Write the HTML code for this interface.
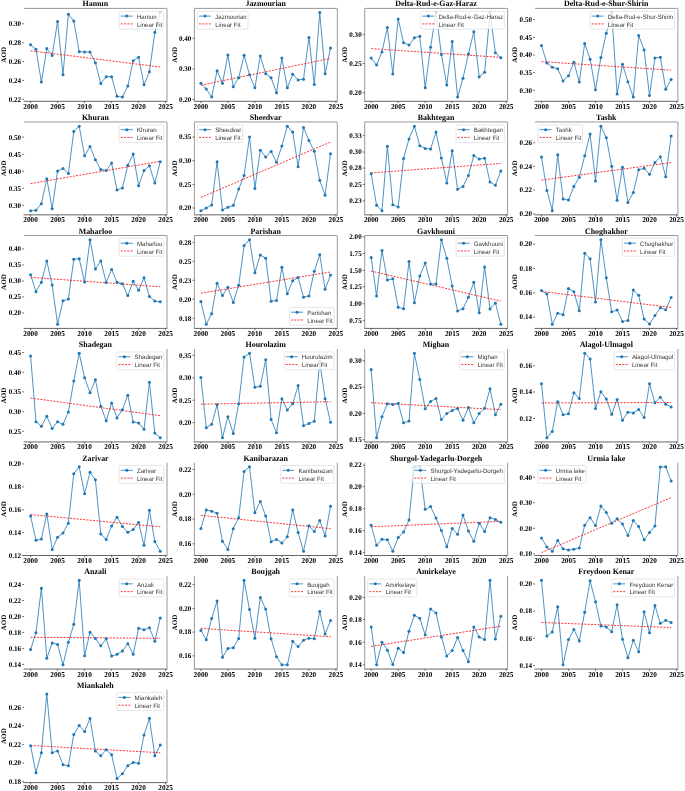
<!DOCTYPE html>
<html><head><meta charset="utf-8"><style>
html,body{margin:0;padding:0;background:#fff;}
svg{display:block;will-change:transform;}
text{text-rendering:geometricPrecision;}
.sp{stroke:#999;stroke-width:1;}
.sb{stroke:#666;stroke-width:1;}
.tk{stroke:#333;stroke-width:0.7;}
.tl{font-family:'Liberation Serif',serif;font-weight:bold;font-size:7.3px;fill:#000;}
.ty{font-family:'Liberation Serif',serif;font-weight:bold;font-size:7.1px;fill:#000;}
.ya{font-family:'Liberation Serif',serif;font-weight:bold;font-size:6.95px;fill:#000;}
.ti{font-family:'Liberation Serif',serif;font-weight:bold;font-size:7.95px;fill:#000;}
.lt{font-family:'Liberation Sans',sans-serif;font-size:6.1px;fill:#333;}
.ln{fill:none;stroke:#1f77b4;stroke-width:0.8;stroke-linejoin:round;}
.fit{stroke:#ff0000;stroke-width:0.8;stroke-dasharray:2.0 1.3;}
.mk{fill:#1f77b4;}
.lg{fill:#fff;fill-opacity:0.8;stroke:#d5d5d5;stroke-width:0.6;}
</style></head>
<body><svg width="685" height="791" viewBox="0 0 685 791">
<rect width="685" height="791" fill="#fff"/>
<line x1="24.1" y1="8.4" x2="166.7" y2="8.4" class="sp"/>
<line x1="23.6" y1="101.3" x2="167.2" y2="101.3" class="sb"/>
<line x1="167" y1="8.4" x2="167" y2="101.8" class="sp"/>
<line x1="30.58" y1="101.3" x2="30.58" y2="103.1" class="tk"/>
<text transform="translate(30.58,108.8) scale(1,1.03)" class="tl" text-anchor="middle">2000</text>
<line x1="57.59" y1="101.3" x2="57.59" y2="103.1" class="tk"/>
<text transform="translate(57.59,108.8) scale(1,1.03)" class="tl" text-anchor="middle">2005</text>
<line x1="84.6" y1="101.3" x2="84.6" y2="103.1" class="tk"/>
<text transform="translate(84.6,108.8) scale(1,1.03)" class="tl" text-anchor="middle">2010</text>
<line x1="111.6" y1="101.3" x2="111.6" y2="103.1" class="tk"/>
<text transform="translate(111.6,108.8) scale(1,1.03)" class="tl" text-anchor="middle">2015</text>
<line x1="138.61" y1="101.3" x2="138.61" y2="103.1" class="tk"/>
<text transform="translate(138.61,108.8) scale(1,1.03)" class="tl" text-anchor="middle">2020</text>
<line x1="165.62" y1="101.3" x2="165.62" y2="103.1" class="tk"/>
<text transform="translate(165.62,108.8) scale(1,1.03)" class="tl" text-anchor="middle">2025</text>
<line x1="22.2" y1="23.81" x2="24.1" y2="23.81" class="tk"/>
<text transform="translate(21.1,26.16) scale(1,1.03)" class="ty" text-anchor="end">0.30</text>
<line x1="22.2" y1="42.68" x2="24.1" y2="42.68" class="tk"/>
<text transform="translate(21.1,45.03) scale(1,1.03)" class="ty" text-anchor="end">0.28</text>
<line x1="22.2" y1="61.54" x2="24.1" y2="61.54" class="tk"/>
<text transform="translate(21.1,63.89) scale(1,1.03)" class="ty" text-anchor="end">0.26</text>
<line x1="22.2" y1="80.41" x2="24.1" y2="80.41" class="tk"/>
<text transform="translate(21.1,82.76) scale(1,1.03)" class="ty" text-anchor="end">0.24</text>
<line x1="22.2" y1="99.27" x2="24.1" y2="99.27" class="tk"/>
<text transform="translate(21.1,101.62) scale(1,1.03)" class="ty" text-anchor="end">0.22</text>
<text transform="translate(95.4,5.9) scale(1,1.03)" class="ti" text-anchor="middle">Hamun</text>
<text transform="translate(6.2,54.85) scale(1,1.03) rotate(-90)" class="ya" text-anchor="middle">AOD</text>
<polyline points="30.58,44.87 35.98,49.26 41.38,81.94 46.79,48.6 52.19,55.4 57.59,21.4 62.99,74.7 68.39,14.16 73.79,20.96 79.2,51.67 84.6,51.89 90,52.11 95.4,62.64 100.8,83.48 106.2,76.68 111.6,76.68 117.01,96.2 122.41,97.08 127.81,86.11 133.21,60.66 138.61,57.37 144.01,84.79 149.42,71.85 154.82,32.15 160.22,12.62" class="ln"/>
<line x1="30.58" y1="50.79" x2="160.22" y2="67.02" class="fit"/>
<circle cx="30.58" cy="44.87" r="1.5" class="mk"/>
<circle cx="35.98" cy="49.26" r="1.5" class="mk"/>
<circle cx="41.38" cy="81.94" r="1.5" class="mk"/>
<circle cx="46.79" cy="48.6" r="1.5" class="mk"/>
<circle cx="52.19" cy="55.4" r="1.5" class="mk"/>
<circle cx="57.59" cy="21.4" r="1.5" class="mk"/>
<circle cx="62.99" cy="74.7" r="1.5" class="mk"/>
<circle cx="68.39" cy="14.16" r="1.5" class="mk"/>
<circle cx="73.79" cy="20.96" r="1.5" class="mk"/>
<circle cx="79.2" cy="51.67" r="1.5" class="mk"/>
<circle cx="84.6" cy="51.89" r="1.5" class="mk"/>
<circle cx="90" cy="52.11" r="1.5" class="mk"/>
<circle cx="95.4" cy="62.64" r="1.5" class="mk"/>
<circle cx="100.8" cy="83.48" r="1.5" class="mk"/>
<circle cx="106.2" cy="76.68" r="1.5" class="mk"/>
<circle cx="111.6" cy="76.68" r="1.5" class="mk"/>
<circle cx="117.01" cy="96.2" r="1.5" class="mk"/>
<circle cx="122.41" cy="97.08" r="1.5" class="mk"/>
<circle cx="127.81" cy="86.11" r="1.5" class="mk"/>
<circle cx="133.21" cy="60.66" r="1.5" class="mk"/>
<circle cx="138.61" cy="57.37" r="1.5" class="mk"/>
<circle cx="144.01" cy="84.79" r="1.5" class="mk"/>
<circle cx="149.42" cy="71.85" r="1.5" class="mk"/>
<circle cx="154.82" cy="32.15" r="1.5" class="mk"/>
<circle cx="160.22" cy="12.62" r="1.5" class="mk"/>
<rect x="119.17" y="11.3" width="44.53" height="17.8" rx="1.2" class="lg"/>
<line x1="120.77" y1="16.1" x2="132.77" y2="16.1" class="ln"/>
<circle cx="126.77" cy="16.1" r="1.5" class="mk"/>
<line x1="120.77" y1="23.9" x2="132.77" y2="23.9" class="fit"/>
<text transform="translate(136.97,18.8) scale(1,1.03)" class="lt">Hamun</text>
<text transform="translate(136.97,26.6) scale(1,1.03)" class="lt">Linear Fit</text>
<line x1="194.4" y1="8.4" x2="337" y2="8.4" class="sp"/>
<line x1="193.9" y1="101.3" x2="337.5" y2="101.3" class="sb"/>
<line x1="337.3" y1="8.4" x2="337.3" y2="101.8" class="sp"/>
<line x1="194.4" y1="8.4" x2="194.4" y2="101.3" class="sp"/>
<line x1="200.88" y1="101.3" x2="200.88" y2="103.1" class="tk"/>
<text transform="translate(200.88,108.8) scale(1,1.03)" class="tl" text-anchor="middle">2000</text>
<line x1="227.89" y1="101.3" x2="227.89" y2="103.1" class="tk"/>
<text transform="translate(227.89,108.8) scale(1,1.03)" class="tl" text-anchor="middle">2005</text>
<line x1="254.9" y1="101.3" x2="254.9" y2="103.1" class="tk"/>
<text transform="translate(254.9,108.8) scale(1,1.03)" class="tl" text-anchor="middle">2010</text>
<line x1="281.9" y1="101.3" x2="281.9" y2="103.1" class="tk"/>
<text transform="translate(281.9,108.8) scale(1,1.03)" class="tl" text-anchor="middle">2015</text>
<line x1="308.91" y1="101.3" x2="308.91" y2="103.1" class="tk"/>
<text transform="translate(308.91,108.8) scale(1,1.03)" class="tl" text-anchor="middle">2020</text>
<line x1="335.92" y1="101.3" x2="335.92" y2="103.1" class="tk"/>
<text transform="translate(335.92,108.8) scale(1,1.03)" class="tl" text-anchor="middle">2025</text>
<line x1="192.5" y1="38.35" x2="194.4" y2="38.35" class="tk"/>
<text transform="translate(191.4,40.7) scale(1,1.03)" class="ty" text-anchor="end">0.40</text>
<line x1="192.5" y1="68.93" x2="194.4" y2="68.93" class="tk"/>
<text transform="translate(191.4,71.28) scale(1,1.03)" class="ty" text-anchor="end">0.30</text>
<line x1="192.5" y1="99.5" x2="194.4" y2="99.5" class="tk"/>
<text transform="translate(191.4,101.85) scale(1,1.03)" class="ty" text-anchor="end">0.20</text>
<text transform="translate(265.7,5.9) scale(1,1.03)" class="ti" text-anchor="middle">Jazmourian</text>
<text transform="translate(176.5,54.85) scale(1,1.03) rotate(-90)" class="ya" text-anchor="middle">AOD</text>
<polyline points="200.88,83.22 206.28,88.94 211.68,97.08 217.09,70.69 222.49,83.22 227.89,55.07 233.29,86.74 238.69,77.72 244.09,55.29 249.5,74.86 254.9,87.84 260.3,55.95 265.7,73.76 271.1,77.72 276.5,92.68 281.9,57.93 287.31,87.84 292.71,74.2 298.11,79.92 303.51,79.26 308.91,37.48 314.31,84.54 319.72,12.62 325.12,73.76 330.52,48.03" class="ln"/>
<line x1="200.88" y1="85.2" x2="330.52" y2="58.37" class="fit"/>
<circle cx="200.88" cy="83.22" r="1.5" class="mk"/>
<circle cx="206.28" cy="88.94" r="1.5" class="mk"/>
<circle cx="211.68" cy="97.08" r="1.5" class="mk"/>
<circle cx="217.09" cy="70.69" r="1.5" class="mk"/>
<circle cx="222.49" cy="83.22" r="1.5" class="mk"/>
<circle cx="227.89" cy="55.07" r="1.5" class="mk"/>
<circle cx="233.29" cy="86.74" r="1.5" class="mk"/>
<circle cx="238.69" cy="77.72" r="1.5" class="mk"/>
<circle cx="244.09" cy="55.29" r="1.5" class="mk"/>
<circle cx="249.5" cy="74.86" r="1.5" class="mk"/>
<circle cx="254.9" cy="87.84" r="1.5" class="mk"/>
<circle cx="260.3" cy="55.95" r="1.5" class="mk"/>
<circle cx="265.7" cy="73.76" r="1.5" class="mk"/>
<circle cx="271.1" cy="77.72" r="1.5" class="mk"/>
<circle cx="276.5" cy="92.68" r="1.5" class="mk"/>
<circle cx="281.9" cy="57.93" r="1.5" class="mk"/>
<circle cx="287.31" cy="87.84" r="1.5" class="mk"/>
<circle cx="292.71" cy="74.2" r="1.5" class="mk"/>
<circle cx="298.11" cy="79.92" r="1.5" class="mk"/>
<circle cx="303.51" cy="79.26" r="1.5" class="mk"/>
<circle cx="308.91" cy="37.48" r="1.5" class="mk"/>
<circle cx="314.31" cy="84.54" r="1.5" class="mk"/>
<circle cx="319.72" cy="12.62" r="1.5" class="mk"/>
<circle cx="325.12" cy="73.76" r="1.5" class="mk"/>
<circle cx="330.52" cy="48.03" r="1.5" class="mk"/>
<rect x="197.4" y="11.3" width="50.63" height="17.8" rx="1.2" class="lg"/>
<line x1="199" y1="16.1" x2="211" y2="16.1" class="ln"/>
<circle cx="205" cy="16.1" r="1.5" class="mk"/>
<line x1="199" y1="23.9" x2="211" y2="23.9" class="fit"/>
<text transform="translate(215.2,18.8) scale(1,1.03)" class="lt">Jazmourian</text>
<text transform="translate(215.2,26.6) scale(1,1.03)" class="lt">Linear Fit</text>
<line x1="364.7" y1="8.4" x2="507.3" y2="8.4" class="sp"/>
<line x1="364.2" y1="101.3" x2="507.8" y2="101.3" class="sb"/>
<line x1="507.6" y1="8.4" x2="507.6" y2="101.8" class="sp"/>
<line x1="364.7" y1="8.4" x2="364.7" y2="101.3" class="sp"/>
<line x1="371.18" y1="101.3" x2="371.18" y2="103.1" class="tk"/>
<text transform="translate(371.18,108.8) scale(1,1.03)" class="tl" text-anchor="middle">2000</text>
<line x1="398.19" y1="101.3" x2="398.19" y2="103.1" class="tk"/>
<text transform="translate(398.19,108.8) scale(1,1.03)" class="tl" text-anchor="middle">2005</text>
<line x1="425.2" y1="101.3" x2="425.2" y2="103.1" class="tk"/>
<text transform="translate(425.2,108.8) scale(1,1.03)" class="tl" text-anchor="middle">2010</text>
<line x1="452.2" y1="101.3" x2="452.2" y2="103.1" class="tk"/>
<text transform="translate(452.2,108.8) scale(1,1.03)" class="tl" text-anchor="middle">2015</text>
<line x1="479.21" y1="101.3" x2="479.21" y2="103.1" class="tk"/>
<text transform="translate(479.21,108.8) scale(1,1.03)" class="tl" text-anchor="middle">2020</text>
<line x1="506.22" y1="101.3" x2="506.22" y2="103.1" class="tk"/>
<text transform="translate(506.22,108.8) scale(1,1.03)" class="tl" text-anchor="middle">2025</text>
<line x1="362.8" y1="34.78" x2="364.7" y2="34.78" class="tk"/>
<text transform="translate(361.7,37.13) scale(1,1.03)" class="ty" text-anchor="end">0.30</text>
<line x1="362.8" y1="63.51" x2="364.7" y2="63.51" class="tk"/>
<text transform="translate(361.7,65.86) scale(1,1.03)" class="ty" text-anchor="end">0.25</text>
<line x1="362.8" y1="92.69" x2="364.7" y2="92.69" class="tk"/>
<text transform="translate(361.7,95.04) scale(1,1.03)" class="ty" text-anchor="end">0.20</text>
<text transform="translate(436,5.9) scale(1,1.03)" class="ti" text-anchor="middle">Delta-Rud-e-Gaz-Haraz</text>
<text transform="translate(346.8,54.85) scale(1,1.03) rotate(-90)" class="ya" text-anchor="middle">AOD</text>
<polyline points="371.18,58.03 376.58,65.05 381.98,51.89 387.39,27.54 392.79,74.04 398.19,18.98 403.59,42.68 408.99,45.09 414.39,37.85 419.8,36.31 425.2,87.64 430.6,47.28 436,12.62 441.4,54.52 446.8,85.01 452.2,41.58 457.61,97.08 463.01,78.21 468.41,54.08 473.81,31.71 479.21,76.9 484.61,72.29 490.02,12.62 495.42,52.77 500.82,57.81" class="ln"/>
<line x1="371.18" y1="48.6" x2="500.82" y2="57.37" class="fit"/>
<circle cx="371.18" cy="58.03" r="1.5" class="mk"/>
<circle cx="376.58" cy="65.05" r="1.5" class="mk"/>
<circle cx="381.98" cy="51.89" r="1.5" class="mk"/>
<circle cx="387.39" cy="27.54" r="1.5" class="mk"/>
<circle cx="392.79" cy="74.04" r="1.5" class="mk"/>
<circle cx="398.19" cy="18.98" r="1.5" class="mk"/>
<circle cx="403.59" cy="42.68" r="1.5" class="mk"/>
<circle cx="408.99" cy="45.09" r="1.5" class="mk"/>
<circle cx="414.39" cy="37.85" r="1.5" class="mk"/>
<circle cx="419.8" cy="36.31" r="1.5" class="mk"/>
<circle cx="425.2" cy="87.64" r="1.5" class="mk"/>
<circle cx="430.6" cy="47.28" r="1.5" class="mk"/>
<circle cx="436" cy="12.62" r="1.5" class="mk"/>
<circle cx="441.4" cy="54.52" r="1.5" class="mk"/>
<circle cx="446.8" cy="85.01" r="1.5" class="mk"/>
<circle cx="452.2" cy="41.58" r="1.5" class="mk"/>
<circle cx="457.61" cy="97.08" r="1.5" class="mk"/>
<circle cx="463.01" cy="78.21" r="1.5" class="mk"/>
<circle cx="468.41" cy="54.08" r="1.5" class="mk"/>
<circle cx="473.81" cy="31.71" r="1.5" class="mk"/>
<circle cx="479.21" cy="76.9" r="1.5" class="mk"/>
<circle cx="484.61" cy="72.29" r="1.5" class="mk"/>
<circle cx="490.02" cy="12.62" r="1.5" class="mk"/>
<circle cx="495.42" cy="52.77" r="1.5" class="mk"/>
<circle cx="500.82" cy="57.81" r="1.5" class="mk"/>
<rect x="420.8" y="11.3" width="83.5" height="17.8" rx="1.2" class="lg"/>
<line x1="422.4" y1="16.1" x2="434.4" y2="16.1" class="ln"/>
<circle cx="428.4" cy="16.1" r="1.5" class="mk"/>
<line x1="422.4" y1="23.9" x2="434.4" y2="23.9" class="fit"/>
<text transform="translate(438.6,18.8) scale(1,1.03)" class="lt">Delta-Rud-e-Gaz-Haraz</text>
<text transform="translate(438.6,26.6) scale(1,1.03)" class="lt">Linear Fit</text>
<line x1="535" y1="8.4" x2="677.6" y2="8.4" class="sp"/>
<line x1="534.5" y1="101.3" x2="678.1" y2="101.3" class="sb"/>
<line x1="677.9" y1="8.4" x2="677.9" y2="101.8" class="sp"/>
<line x1="541.48" y1="101.3" x2="541.48" y2="103.1" class="tk"/>
<text transform="translate(541.48,108.8) scale(1,1.03)" class="tl" text-anchor="middle">2000</text>
<line x1="568.49" y1="101.3" x2="568.49" y2="103.1" class="tk"/>
<text transform="translate(568.49,108.8) scale(1,1.03)" class="tl" text-anchor="middle">2005</text>
<line x1="595.5" y1="101.3" x2="595.5" y2="103.1" class="tk"/>
<text transform="translate(595.5,108.8) scale(1,1.03)" class="tl" text-anchor="middle">2010</text>
<line x1="622.5" y1="101.3" x2="622.5" y2="103.1" class="tk"/>
<text transform="translate(622.5,108.8) scale(1,1.03)" class="tl" text-anchor="middle">2015</text>
<line x1="649.51" y1="101.3" x2="649.51" y2="103.1" class="tk"/>
<text transform="translate(649.51,108.8) scale(1,1.03)" class="tl" text-anchor="middle">2020</text>
<line x1="676.52" y1="101.3" x2="676.52" y2="103.1" class="tk"/>
<text transform="translate(676.52,108.8) scale(1,1.03)" class="tl" text-anchor="middle">2025</text>
<line x1="533.1" y1="19.62" x2="535" y2="19.62" class="tk"/>
<text transform="translate(532,21.97) scale(1,1.03)" class="ty" text-anchor="end">0.50</text>
<line x1="533.1" y1="37.35" x2="535" y2="37.35" class="tk"/>
<text transform="translate(532,39.7) scale(1,1.03)" class="ty" text-anchor="end">0.45</text>
<line x1="533.1" y1="55.07" x2="535" y2="55.07" class="tk"/>
<text transform="translate(532,57.42) scale(1,1.03)" class="ty" text-anchor="end">0.40</text>
<line x1="533.1" y1="72.57" x2="535" y2="72.57" class="tk"/>
<text transform="translate(532,74.92) scale(1,1.03)" class="ty" text-anchor="end">0.35</text>
<line x1="533.1" y1="90.29" x2="535" y2="90.29" class="tk"/>
<text transform="translate(532,92.64) scale(1,1.03)" class="ty" text-anchor="end">0.30</text>
<text transform="translate(606.3,5.9) scale(1,1.03)" class="ti" text-anchor="middle">Delta-Rud-e-Shur-Shirin</text>
<text transform="translate(517.1,54.85) scale(1,1.03) rotate(-90)" class="ya" text-anchor="middle">AOD</text>
<polyline points="541.48,45.44 546.88,62.95 552.28,67.32 557.69,68.63 563.09,80.89 568.49,75.85 573.89,62.29 579.29,81.98 584.69,43.47 590.1,59.23 595.5,89.64 600.9,57.48 606.3,33.19 611.7,12.62 617.1,94.01 622.5,64.26 627.91,81.76 633.31,97.08 638.71,35.38 644.11,50.04 649.51,95.55 654.91,57.91 660.32,57.26 665.72,89.2 671.12,79.57" class="ln"/>
<line x1="541.48" y1="61.63" x2="671.12" y2="70.17" class="fit"/>
<circle cx="541.48" cy="45.44" r="1.5" class="mk"/>
<circle cx="546.88" cy="62.95" r="1.5" class="mk"/>
<circle cx="552.28" cy="67.32" r="1.5" class="mk"/>
<circle cx="557.69" cy="68.63" r="1.5" class="mk"/>
<circle cx="563.09" cy="80.89" r="1.5" class="mk"/>
<circle cx="568.49" cy="75.85" r="1.5" class="mk"/>
<circle cx="573.89" cy="62.29" r="1.5" class="mk"/>
<circle cx="579.29" cy="81.98" r="1.5" class="mk"/>
<circle cx="584.69" cy="43.47" r="1.5" class="mk"/>
<circle cx="590.1" cy="59.23" r="1.5" class="mk"/>
<circle cx="595.5" cy="89.64" r="1.5" class="mk"/>
<circle cx="600.9" cy="57.48" r="1.5" class="mk"/>
<circle cx="606.3" cy="33.19" r="1.5" class="mk"/>
<circle cx="611.7" cy="12.62" r="1.5" class="mk"/>
<circle cx="617.1" cy="94.01" r="1.5" class="mk"/>
<circle cx="622.5" cy="64.26" r="1.5" class="mk"/>
<circle cx="627.91" cy="81.76" r="1.5" class="mk"/>
<circle cx="633.31" cy="97.08" r="1.5" class="mk"/>
<circle cx="638.71" cy="35.38" r="1.5" class="mk"/>
<circle cx="644.11" cy="50.04" r="1.5" class="mk"/>
<circle cx="649.51" cy="95.55" r="1.5" class="mk"/>
<circle cx="654.91" cy="57.91" r="1.5" class="mk"/>
<circle cx="660.32" cy="57.26" r="1.5" class="mk"/>
<circle cx="665.72" cy="89.2" r="1.5" class="mk"/>
<circle cx="671.12" cy="79.57" r="1.5" class="mk"/>
<rect x="590.07" y="11.3" width="84.53" height="17.8" rx="1.2" class="lg"/>
<line x1="591.67" y1="16.1" x2="603.67" y2="16.1" class="ln"/>
<circle cx="597.67" cy="16.1" r="1.5" class="mk"/>
<line x1="591.67" y1="23.9" x2="603.67" y2="23.9" class="fit"/>
<text transform="translate(607.87,18.8) scale(1,1.03)" class="lt">Delta-Rud-e-Shur-Shirin</text>
<text transform="translate(607.87,26.6) scale(1,1.03)" class="lt">Linear Fit</text>
<line x1="24.1" y1="121.95" x2="166.7" y2="121.95" class="sp"/>
<line x1="23.6" y1="214.85" x2="167.2" y2="214.85" class="sb"/>
<line x1="167" y1="121.95" x2="167" y2="215.35" class="sp"/>
<line x1="30.58" y1="214.85" x2="30.58" y2="216.65" class="tk"/>
<text transform="translate(30.58,222.35) scale(1,1.03)" class="tl" text-anchor="middle">2000</text>
<line x1="57.59" y1="214.85" x2="57.59" y2="216.65" class="tk"/>
<text transform="translate(57.59,222.35) scale(1,1.03)" class="tl" text-anchor="middle">2005</text>
<line x1="84.6" y1="214.85" x2="84.6" y2="216.65" class="tk"/>
<text transform="translate(84.6,222.35) scale(1,1.03)" class="tl" text-anchor="middle">2010</text>
<line x1="111.6" y1="214.85" x2="111.6" y2="216.65" class="tk"/>
<text transform="translate(111.6,222.35) scale(1,1.03)" class="tl" text-anchor="middle">2015</text>
<line x1="138.61" y1="214.85" x2="138.61" y2="216.65" class="tk"/>
<text transform="translate(138.61,222.35) scale(1,1.03)" class="tl" text-anchor="middle">2020</text>
<line x1="165.62" y1="214.85" x2="165.62" y2="216.65" class="tk"/>
<text transform="translate(165.62,222.35) scale(1,1.03)" class="tl" text-anchor="middle">2025</text>
<line x1="22.2" y1="137.17" x2="24.1" y2="137.17" class="tk"/>
<text transform="translate(21.1,139.52) scale(1,1.03)" class="ty" text-anchor="end">0.50</text>
<line x1="22.2" y1="154.32" x2="24.1" y2="154.32" class="tk"/>
<text transform="translate(21.1,156.67) scale(1,1.03)" class="ty" text-anchor="end">0.45</text>
<line x1="22.2" y1="171.26" x2="24.1" y2="171.26" class="tk"/>
<text transform="translate(21.1,173.61) scale(1,1.03)" class="ty" text-anchor="end">0.40</text>
<line x1="22.2" y1="188.19" x2="24.1" y2="188.19" class="tk"/>
<text transform="translate(21.1,190.54) scale(1,1.03)" class="ty" text-anchor="end">0.35</text>
<line x1="22.2" y1="205.35" x2="24.1" y2="205.35" class="tk"/>
<text transform="translate(21.1,207.7) scale(1,1.03)" class="ty" text-anchor="end">0.30</text>
<text transform="translate(95.4,120.05) scale(1,1.03)" class="ti" text-anchor="middle">Khuran</text>
<text transform="translate(6.2,168.4) scale(1,1.03) rotate(-90)" class="ya" text-anchor="middle">AOD</text>
<polyline points="30.58,210.63 35.98,210.19 41.38,203.81 46.79,178.74 52.19,208.87 57.59,171.04 62.99,168.4 68.39,173.46 73.79,131.45 79.2,126.17 84.6,155.86 90,146.41 95.4,159.82 100.8,169.5 106.2,170.6 111.6,163.12 117.01,189.95 122.41,187.97 127.81,165.32 133.21,154.1 138.61,185.77 144.01,170.6 149.42,165.76 154.82,182.92 160.22,161.8" class="ln"/>
<line x1="30.58" y1="183.58" x2="160.22" y2="161.36" class="fit"/>
<circle cx="30.58" cy="210.63" r="1.5" class="mk"/>
<circle cx="35.98" cy="210.19" r="1.5" class="mk"/>
<circle cx="41.38" cy="203.81" r="1.5" class="mk"/>
<circle cx="46.79" cy="178.74" r="1.5" class="mk"/>
<circle cx="52.19" cy="208.87" r="1.5" class="mk"/>
<circle cx="57.59" cy="171.04" r="1.5" class="mk"/>
<circle cx="62.99" cy="168.4" r="1.5" class="mk"/>
<circle cx="68.39" cy="173.46" r="1.5" class="mk"/>
<circle cx="73.79" cy="131.45" r="1.5" class="mk"/>
<circle cx="79.2" cy="126.17" r="1.5" class="mk"/>
<circle cx="84.6" cy="155.86" r="1.5" class="mk"/>
<circle cx="90" cy="146.41" r="1.5" class="mk"/>
<circle cx="95.4" cy="159.82" r="1.5" class="mk"/>
<circle cx="100.8" cy="169.5" r="1.5" class="mk"/>
<circle cx="106.2" cy="170.6" r="1.5" class="mk"/>
<circle cx="111.6" cy="163.12" r="1.5" class="mk"/>
<circle cx="117.01" cy="189.95" r="1.5" class="mk"/>
<circle cx="122.41" cy="187.97" r="1.5" class="mk"/>
<circle cx="127.81" cy="165.32" r="1.5" class="mk"/>
<circle cx="133.21" cy="154.1" r="1.5" class="mk"/>
<circle cx="138.61" cy="185.77" r="1.5" class="mk"/>
<circle cx="144.01" cy="170.6" r="1.5" class="mk"/>
<circle cx="149.42" cy="165.76" r="1.5" class="mk"/>
<circle cx="154.82" cy="182.92" r="1.5" class="mk"/>
<circle cx="160.22" cy="161.8" r="1.5" class="mk"/>
<rect x="119.17" y="124.85" width="44.53" height="17.8" rx="1.2" class="lg"/>
<line x1="120.77" y1="129.65" x2="132.77" y2="129.65" class="ln"/>
<circle cx="126.77" cy="129.65" r="1.5" class="mk"/>
<line x1="120.77" y1="137.45" x2="132.77" y2="137.45" class="fit"/>
<text transform="translate(136.97,132.35) scale(1,1.03)" class="lt">Khuran</text>
<text transform="translate(136.97,140.15) scale(1,1.03)" class="lt">Linear Fit</text>
<line x1="194.4" y1="121.95" x2="337" y2="121.95" class="sp"/>
<line x1="193.9" y1="214.85" x2="337.5" y2="214.85" class="sb"/>
<line x1="337.3" y1="121.95" x2="337.3" y2="215.35" class="sp"/>
<line x1="194.4" y1="121.95" x2="194.4" y2="214.85" class="sp"/>
<line x1="200.88" y1="214.85" x2="200.88" y2="216.65" class="tk"/>
<text transform="translate(200.88,222.35) scale(1,1.03)" class="tl" text-anchor="middle">2000</text>
<line x1="227.89" y1="214.85" x2="227.89" y2="216.65" class="tk"/>
<text transform="translate(227.89,222.35) scale(1,1.03)" class="tl" text-anchor="middle">2005</text>
<line x1="254.9" y1="214.85" x2="254.9" y2="216.65" class="tk"/>
<text transform="translate(254.9,222.35) scale(1,1.03)" class="tl" text-anchor="middle">2010</text>
<line x1="281.9" y1="214.85" x2="281.9" y2="216.65" class="tk"/>
<text transform="translate(281.9,222.35) scale(1,1.03)" class="tl" text-anchor="middle">2015</text>
<line x1="308.91" y1="214.85" x2="308.91" y2="216.65" class="tk"/>
<text transform="translate(308.91,222.35) scale(1,1.03)" class="tl" text-anchor="middle">2020</text>
<line x1="335.92" y1="214.85" x2="335.92" y2="216.65" class="tk"/>
<text transform="translate(335.92,222.35) scale(1,1.03)" class="tl" text-anchor="middle">2025</text>
<line x1="192.5" y1="136.95" x2="194.4" y2="136.95" class="tk"/>
<text transform="translate(191.4,139.3) scale(1,1.03)" class="ty" text-anchor="end">0.35</text>
<line x1="192.5" y1="160.7" x2="194.4" y2="160.7" class="tk"/>
<text transform="translate(191.4,163.05) scale(1,1.03)" class="ty" text-anchor="end">0.30</text>
<line x1="192.5" y1="184.46" x2="194.4" y2="184.46" class="tk"/>
<text transform="translate(191.4,186.81) scale(1,1.03)" class="ty" text-anchor="end">0.25</text>
<line x1="192.5" y1="207.99" x2="194.4" y2="207.99" class="tk"/>
<text transform="translate(191.4,210.34) scale(1,1.03)" class="ty" text-anchor="end">0.20</text>
<text transform="translate(265.7,120.05) scale(1,1.03)" class="ti" text-anchor="middle">Sheedvar</text>
<text transform="translate(176.5,168.4) scale(1,1.03) rotate(-90)" class="ya" text-anchor="middle">AOD</text>
<polyline points="200.88,210.63 206.28,207.99 211.68,204.91 217.09,161.8 222.49,209.97 227.89,207.33 233.29,205.35 238.69,189.07 244.09,175.44 249.5,136.95 254.9,188.41 260.3,150.15 265.7,156.96 271.1,151.47 276.5,162.24 281.9,145.97 287.31,126.17 292.71,132.11 298.11,166.64 303.51,127.49 308.91,140.47 314.31,151.25 319.72,180.28 325.12,195.23 330.52,153.66" class="ln"/>
<line x1="200.88" y1="197.43" x2="330.52" y2="142.01" class="fit"/>
<circle cx="200.88" cy="210.63" r="1.5" class="mk"/>
<circle cx="206.28" cy="207.99" r="1.5" class="mk"/>
<circle cx="211.68" cy="204.91" r="1.5" class="mk"/>
<circle cx="217.09" cy="161.8" r="1.5" class="mk"/>
<circle cx="222.49" cy="209.97" r="1.5" class="mk"/>
<circle cx="227.89" cy="207.33" r="1.5" class="mk"/>
<circle cx="233.29" cy="205.35" r="1.5" class="mk"/>
<circle cx="238.69" cy="189.07" r="1.5" class="mk"/>
<circle cx="244.09" cy="175.44" r="1.5" class="mk"/>
<circle cx="249.5" cy="136.95" r="1.5" class="mk"/>
<circle cx="254.9" cy="188.41" r="1.5" class="mk"/>
<circle cx="260.3" cy="150.15" r="1.5" class="mk"/>
<circle cx="265.7" cy="156.96" r="1.5" class="mk"/>
<circle cx="271.1" cy="151.47" r="1.5" class="mk"/>
<circle cx="276.5" cy="162.24" r="1.5" class="mk"/>
<circle cx="281.9" cy="145.97" r="1.5" class="mk"/>
<circle cx="287.31" cy="126.17" r="1.5" class="mk"/>
<circle cx="292.71" cy="132.11" r="1.5" class="mk"/>
<circle cx="298.11" cy="166.64" r="1.5" class="mk"/>
<circle cx="303.51" cy="127.49" r="1.5" class="mk"/>
<circle cx="308.91" cy="140.47" r="1.5" class="mk"/>
<circle cx="314.31" cy="151.25" r="1.5" class="mk"/>
<circle cx="319.72" cy="180.28" r="1.5" class="mk"/>
<circle cx="325.12" cy="195.23" r="1.5" class="mk"/>
<circle cx="330.52" cy="153.66" r="1.5" class="mk"/>
<rect x="197.4" y="124.85" width="45.21" height="17.8" rx="1.2" class="lg"/>
<line x1="199" y1="129.65" x2="211" y2="129.65" class="ln"/>
<circle cx="205" cy="129.65" r="1.5" class="mk"/>
<line x1="199" y1="137.45" x2="211" y2="137.45" class="fit"/>
<text transform="translate(215.2,132.35) scale(1,1.03)" class="lt">Sheedvar</text>
<text transform="translate(215.2,140.15) scale(1,1.03)" class="lt">Linear Fit</text>
<line x1="364.7" y1="121.95" x2="507.3" y2="121.95" class="sp"/>
<line x1="364.2" y1="214.85" x2="507.8" y2="214.85" class="sb"/>
<line x1="507.6" y1="121.95" x2="507.6" y2="215.35" class="sp"/>
<line x1="364.7" y1="121.95" x2="364.7" y2="214.85" class="sp"/>
<line x1="371.18" y1="214.85" x2="371.18" y2="216.65" class="tk"/>
<text transform="translate(371.18,222.35) scale(1,1.03)" class="tl" text-anchor="middle">2000</text>
<line x1="398.19" y1="214.85" x2="398.19" y2="216.65" class="tk"/>
<text transform="translate(398.19,222.35) scale(1,1.03)" class="tl" text-anchor="middle">2005</text>
<line x1="425.2" y1="214.85" x2="425.2" y2="216.65" class="tk"/>
<text transform="translate(425.2,222.35) scale(1,1.03)" class="tl" text-anchor="middle">2010</text>
<line x1="452.2" y1="214.85" x2="452.2" y2="216.65" class="tk"/>
<text transform="translate(452.2,222.35) scale(1,1.03)" class="tl" text-anchor="middle">2015</text>
<line x1="479.21" y1="214.85" x2="479.21" y2="216.65" class="tk"/>
<text transform="translate(479.21,222.35) scale(1,1.03)" class="tl" text-anchor="middle">2020</text>
<line x1="506.22" y1="214.85" x2="506.22" y2="216.65" class="tk"/>
<text transform="translate(506.22,222.35) scale(1,1.03)" class="tl" text-anchor="middle">2025</text>
<line x1="362.8" y1="135.61" x2="364.7" y2="135.61" class="tk"/>
<text transform="translate(361.7,137.96) scale(1,1.03)" class="ty" text-anchor="end">0.33</text>
<line x1="362.8" y1="152.06" x2="364.7" y2="152.06" class="tk"/>
<text transform="translate(361.7,154.41) scale(1,1.03)" class="ty" text-anchor="end">0.30</text>
<line x1="362.8" y1="168.07" x2="364.7" y2="168.07" class="tk"/>
<text transform="translate(361.7,170.42) scale(1,1.03)" class="ty" text-anchor="end">0.28</text>
<line x1="362.8" y1="184.52" x2="364.7" y2="184.52" class="tk"/>
<text transform="translate(361.7,186.87) scale(1,1.03)" class="ty" text-anchor="end">0.25</text>
<line x1="362.8" y1="200.76" x2="364.7" y2="200.76" class="tk"/>
<text transform="translate(361.7,203.11) scale(1,1.03)" class="ty" text-anchor="end">0.23</text>
<text transform="translate(436,120.05) scale(1,1.03)" class="ti" text-anchor="middle">Bakhtegan</text>
<text transform="translate(346.8,168.4) scale(1,1.03) rotate(-90)" class="ya" text-anchor="middle">AOD</text>
<polyline points="371.18,173.77 376.58,205.36 381.98,210.63 387.39,146.13 392.79,204.7 398.19,206.9 403.59,158.42 408.99,138.9 414.39,126.17 419.8,145.7 425.2,148.55 430.6,148.99 436,132.1 441.4,157.98 446.8,182.99 452.2,150.74 457.61,189.35 463.01,186.5 468.41,175.53 473.81,155.57 479.21,159.08 484.61,158.2 490.02,182.11 495.42,185.18 500.82,170.92" class="ln"/>
<line x1="371.18" y1="172.9" x2="500.82" y2="163.46" class="fit"/>
<circle cx="371.18" cy="173.77" r="1.5" class="mk"/>
<circle cx="376.58" cy="205.36" r="1.5" class="mk"/>
<circle cx="381.98" cy="210.63" r="1.5" class="mk"/>
<circle cx="387.39" cy="146.13" r="1.5" class="mk"/>
<circle cx="392.79" cy="204.7" r="1.5" class="mk"/>
<circle cx="398.19" cy="206.9" r="1.5" class="mk"/>
<circle cx="403.59" cy="158.42" r="1.5" class="mk"/>
<circle cx="408.99" cy="138.9" r="1.5" class="mk"/>
<circle cx="414.39" cy="126.17" r="1.5" class="mk"/>
<circle cx="419.8" cy="145.7" r="1.5" class="mk"/>
<circle cx="425.2" cy="148.55" r="1.5" class="mk"/>
<circle cx="430.6" cy="148.99" r="1.5" class="mk"/>
<circle cx="436" cy="132.1" r="1.5" class="mk"/>
<circle cx="441.4" cy="157.98" r="1.5" class="mk"/>
<circle cx="446.8" cy="182.99" r="1.5" class="mk"/>
<circle cx="452.2" cy="150.74" r="1.5" class="mk"/>
<circle cx="457.61" cy="189.35" r="1.5" class="mk"/>
<circle cx="463.01" cy="186.5" r="1.5" class="mk"/>
<circle cx="468.41" cy="175.53" r="1.5" class="mk"/>
<circle cx="473.81" cy="155.57" r="1.5" class="mk"/>
<circle cx="479.21" cy="159.08" r="1.5" class="mk"/>
<circle cx="484.61" cy="158.2" r="1.5" class="mk"/>
<circle cx="490.02" cy="182.11" r="1.5" class="mk"/>
<circle cx="495.42" cy="185.18" r="1.5" class="mk"/>
<circle cx="500.82" cy="170.92" r="1.5" class="mk"/>
<rect x="456.03" y="124.85" width="48.27" height="17.8" rx="1.2" class="lg"/>
<line x1="457.63" y1="129.65" x2="469.63" y2="129.65" class="ln"/>
<circle cx="463.63" cy="129.65" r="1.5" class="mk"/>
<line x1="457.63" y1="137.45" x2="469.63" y2="137.45" class="fit"/>
<text transform="translate(473.83,132.35) scale(1,1.03)" class="lt">Bakhtegan</text>
<text transform="translate(473.83,140.15) scale(1,1.03)" class="lt">Linear Fit</text>
<line x1="535" y1="121.95" x2="677.6" y2="121.95" class="sp"/>
<line x1="534.5" y1="214.85" x2="678.1" y2="214.85" class="sb"/>
<line x1="677.9" y1="121.95" x2="677.9" y2="215.35" class="sp"/>
<line x1="541.48" y1="214.85" x2="541.48" y2="216.65" class="tk"/>
<text transform="translate(541.48,222.35) scale(1,1.03)" class="tl" text-anchor="middle">2000</text>
<line x1="568.49" y1="214.85" x2="568.49" y2="216.65" class="tk"/>
<text transform="translate(568.49,222.35) scale(1,1.03)" class="tl" text-anchor="middle">2005</text>
<line x1="595.5" y1="214.85" x2="595.5" y2="216.65" class="tk"/>
<text transform="translate(595.5,222.35) scale(1,1.03)" class="tl" text-anchor="middle">2010</text>
<line x1="622.5" y1="214.85" x2="622.5" y2="216.65" class="tk"/>
<text transform="translate(622.5,222.35) scale(1,1.03)" class="tl" text-anchor="middle">2015</text>
<line x1="649.51" y1="214.85" x2="649.51" y2="216.65" class="tk"/>
<text transform="translate(649.51,222.35) scale(1,1.03)" class="tl" text-anchor="middle">2020</text>
<line x1="676.52" y1="214.85" x2="676.52" y2="216.65" class="tk"/>
<text transform="translate(676.52,222.35) scale(1,1.03)" class="tl" text-anchor="middle">2025</text>
<line x1="533.1" y1="142.84" x2="535" y2="142.84" class="tk"/>
<text transform="translate(532,145.19) scale(1,1.03)" class="ty" text-anchor="end">0.26</text>
<line x1="533.1" y1="166.32" x2="535" y2="166.32" class="tk"/>
<text transform="translate(532,168.67) scale(1,1.03)" class="ty" text-anchor="end">0.24</text>
<line x1="533.1" y1="190.01" x2="535" y2="190.01" class="tk"/>
<text transform="translate(532,192.36) scale(1,1.03)" class="ty" text-anchor="end">0.22</text>
<line x1="533.1" y1="213.92" x2="535" y2="213.92" class="tk"/>
<text transform="translate(532,216.27) scale(1,1.03)" class="ty" text-anchor="end">0.20</text>
<text transform="translate(606.3,120.05) scale(1,1.03)" class="ti" text-anchor="middle">Tashk</text>
<text transform="translate(517.1,168.4) scale(1,1.03) rotate(-90)" class="ya" text-anchor="middle">AOD</text>
<polyline points="541.48,156.88 546.88,190.45 552.28,210.63 557.69,154.69 563.09,199 568.49,200.1 573.89,186.5 579.29,177.28 584.69,155.79 590.1,134.07 595.5,181.01 600.9,126.17 606.3,137.8 611.7,166.32 617.1,200.32 622.5,167.19 627.91,202.51 633.31,192.42 638.71,169.83 644.11,168.29 649.51,174.21 654.91,162.59 660.32,156.66 665.72,176.63 671.12,136.04" class="ln"/>
<line x1="541.48" y1="180.14" x2="671.12" y2="162.59" class="fit"/>
<circle cx="541.48" cy="156.88" r="1.5" class="mk"/>
<circle cx="546.88" cy="190.45" r="1.5" class="mk"/>
<circle cx="552.28" cy="210.63" r="1.5" class="mk"/>
<circle cx="557.69" cy="154.69" r="1.5" class="mk"/>
<circle cx="563.09" cy="199" r="1.5" class="mk"/>
<circle cx="568.49" cy="200.1" r="1.5" class="mk"/>
<circle cx="573.89" cy="186.5" r="1.5" class="mk"/>
<circle cx="579.29" cy="177.28" r="1.5" class="mk"/>
<circle cx="584.69" cy="155.79" r="1.5" class="mk"/>
<circle cx="590.1" cy="134.07" r="1.5" class="mk"/>
<circle cx="595.5" cy="181.01" r="1.5" class="mk"/>
<circle cx="600.9" cy="126.17" r="1.5" class="mk"/>
<circle cx="606.3" cy="137.8" r="1.5" class="mk"/>
<circle cx="611.7" cy="166.32" r="1.5" class="mk"/>
<circle cx="617.1" cy="200.32" r="1.5" class="mk"/>
<circle cx="622.5" cy="167.19" r="1.5" class="mk"/>
<circle cx="627.91" cy="202.51" r="1.5" class="mk"/>
<circle cx="633.31" cy="192.42" r="1.5" class="mk"/>
<circle cx="638.71" cy="169.83" r="1.5" class="mk"/>
<circle cx="644.11" cy="168.29" r="1.5" class="mk"/>
<circle cx="649.51" cy="174.21" r="1.5" class="mk"/>
<circle cx="654.91" cy="162.59" r="1.5" class="mk"/>
<circle cx="660.32" cy="156.66" r="1.5" class="mk"/>
<circle cx="665.72" cy="176.63" r="1.5" class="mk"/>
<circle cx="671.12" cy="136.04" r="1.5" class="mk"/>
<rect x="538" y="124.85" width="44.53" height="17.8" rx="1.2" class="lg"/>
<line x1="539.6" y1="129.65" x2="551.6" y2="129.65" class="ln"/>
<circle cx="545.6" cy="129.65" r="1.5" class="mk"/>
<line x1="539.6" y1="137.45" x2="551.6" y2="137.45" class="fit"/>
<text transform="translate(555.8,132.35) scale(1,1.03)" class="lt">Tashk</text>
<text transform="translate(555.8,140.15) scale(1,1.03)" class="lt">Linear Fit</text>
<line x1="24.1" y1="235.5" x2="166.7" y2="235.5" class="sp"/>
<line x1="23.6" y1="328.4" x2="167.2" y2="328.4" class="sb"/>
<line x1="167" y1="235.5" x2="167" y2="328.9" class="sp"/>
<line x1="30.58" y1="328.4" x2="30.58" y2="330.2" class="tk"/>
<text transform="translate(30.58,335.9) scale(1,1.03)" class="tl" text-anchor="middle">2000</text>
<line x1="57.59" y1="328.4" x2="57.59" y2="330.2" class="tk"/>
<text transform="translate(57.59,335.9) scale(1,1.03)" class="tl" text-anchor="middle">2005</text>
<line x1="84.6" y1="328.4" x2="84.6" y2="330.2" class="tk"/>
<text transform="translate(84.6,335.9) scale(1,1.03)" class="tl" text-anchor="middle">2010</text>
<line x1="111.6" y1="328.4" x2="111.6" y2="330.2" class="tk"/>
<text transform="translate(111.6,335.9) scale(1,1.03)" class="tl" text-anchor="middle">2015</text>
<line x1="138.61" y1="328.4" x2="138.61" y2="330.2" class="tk"/>
<text transform="translate(138.61,335.9) scale(1,1.03)" class="tl" text-anchor="middle">2020</text>
<line x1="165.62" y1="328.4" x2="165.62" y2="330.2" class="tk"/>
<text transform="translate(165.62,335.9) scale(1,1.03)" class="tl" text-anchor="middle">2025</text>
<line x1="22.2" y1="248.96" x2="24.1" y2="248.96" class="tk"/>
<text transform="translate(21.1,251.31) scale(1,1.03)" class="ty" text-anchor="end">0.40</text>
<line x1="22.2" y1="265.02" x2="24.1" y2="265.02" class="tk"/>
<text transform="translate(21.1,267.37) scale(1,1.03)" class="ty" text-anchor="end">0.35</text>
<line x1="22.2" y1="281.07" x2="24.1" y2="281.07" class="tk"/>
<text transform="translate(21.1,283.42) scale(1,1.03)" class="ty" text-anchor="end">0.30</text>
<line x1="22.2" y1="296.91" x2="24.1" y2="296.91" class="tk"/>
<text transform="translate(21.1,299.26) scale(1,1.03)" class="ty" text-anchor="end">0.25</text>
<line x1="22.2" y1="312.96" x2="24.1" y2="312.96" class="tk"/>
<text transform="translate(21.1,315.31) scale(1,1.03)" class="ty" text-anchor="end">0.20</text>
<text transform="translate(95.4,233.6) scale(1,1.03)" class="ti" text-anchor="middle">Maharloo</text>
<text transform="translate(6.2,281.95) scale(1,1.03) rotate(-90)" class="ya" text-anchor="middle">AOD</text>
<polyline points="30.58,274.69 35.98,291.63 41.38,282.17 46.79,261.06 52.19,285.03 57.59,324.18 62.99,300.86 68.39,299.1 73.79,259.3 79.2,258.64 84.6,281.95 90,239.72 95.4,268.97 100.8,261.06 106.2,282.39 111.6,269.41 117.01,282.17 122.41,283.71 127.81,295.59 133.21,281.29 138.61,290.31 144.01,277.77 149.42,296.47 154.82,301.08 160.22,301.74" class="ln"/>
<line x1="30.58" y1="277.33" x2="160.22" y2="286.79" class="fit"/>
<circle cx="30.58" cy="274.69" r="1.5" class="mk"/>
<circle cx="35.98" cy="291.63" r="1.5" class="mk"/>
<circle cx="41.38" cy="282.17" r="1.5" class="mk"/>
<circle cx="46.79" cy="261.06" r="1.5" class="mk"/>
<circle cx="52.19" cy="285.03" r="1.5" class="mk"/>
<circle cx="57.59" cy="324.18" r="1.5" class="mk"/>
<circle cx="62.99" cy="300.86" r="1.5" class="mk"/>
<circle cx="68.39" cy="299.1" r="1.5" class="mk"/>
<circle cx="73.79" cy="259.3" r="1.5" class="mk"/>
<circle cx="79.2" cy="258.64" r="1.5" class="mk"/>
<circle cx="84.6" cy="281.95" r="1.5" class="mk"/>
<circle cx="90" cy="239.72" r="1.5" class="mk"/>
<circle cx="95.4" cy="268.97" r="1.5" class="mk"/>
<circle cx="100.8" cy="261.06" r="1.5" class="mk"/>
<circle cx="106.2" cy="282.39" r="1.5" class="mk"/>
<circle cx="111.6" cy="269.41" r="1.5" class="mk"/>
<circle cx="117.01" cy="282.17" r="1.5" class="mk"/>
<circle cx="122.41" cy="283.71" r="1.5" class="mk"/>
<circle cx="127.81" cy="295.59" r="1.5" class="mk"/>
<circle cx="133.21" cy="281.29" r="1.5" class="mk"/>
<circle cx="138.61" cy="290.31" r="1.5" class="mk"/>
<circle cx="144.01" cy="277.77" r="1.5" class="mk"/>
<circle cx="149.42" cy="296.47" r="1.5" class="mk"/>
<circle cx="154.82" cy="301.08" r="1.5" class="mk"/>
<circle cx="160.22" cy="301.74" r="1.5" class="mk"/>
<rect x="119.17" y="238.4" width="44.53" height="17.8" rx="1.2" class="lg"/>
<line x1="120.77" y1="243.2" x2="132.77" y2="243.2" class="ln"/>
<circle cx="126.77" cy="243.2" r="1.5" class="mk"/>
<line x1="120.77" y1="251" x2="132.77" y2="251" class="fit"/>
<text transform="translate(136.97,245.9) scale(1,1.03)" class="lt">Maharloo</text>
<text transform="translate(136.97,253.7) scale(1,1.03)" class="lt">Linear Fit</text>
<line x1="194.4" y1="235.5" x2="337" y2="235.5" class="sp"/>
<line x1="193.9" y1="328.4" x2="337.5" y2="328.4" class="sb"/>
<line x1="337.3" y1="235.5" x2="337.3" y2="328.9" class="sp"/>
<line x1="194.4" y1="235.5" x2="194.4" y2="328.4" class="sp"/>
<line x1="200.88" y1="328.4" x2="200.88" y2="330.2" class="tk"/>
<text transform="translate(200.88,335.9) scale(1,1.03)" class="tl" text-anchor="middle">2000</text>
<line x1="227.89" y1="328.4" x2="227.89" y2="330.2" class="tk"/>
<text transform="translate(227.89,335.9) scale(1,1.03)" class="tl" text-anchor="middle">2005</text>
<line x1="254.9" y1="328.4" x2="254.9" y2="330.2" class="tk"/>
<text transform="translate(254.9,335.9) scale(1,1.03)" class="tl" text-anchor="middle">2010</text>
<line x1="281.9" y1="328.4" x2="281.9" y2="330.2" class="tk"/>
<text transform="translate(281.9,335.9) scale(1,1.03)" class="tl" text-anchor="middle">2015</text>
<line x1="308.91" y1="328.4" x2="308.91" y2="330.2" class="tk"/>
<text transform="translate(308.91,335.9) scale(1,1.03)" class="tl" text-anchor="middle">2020</text>
<line x1="335.92" y1="328.4" x2="335.92" y2="330.2" class="tk"/>
<text transform="translate(335.92,335.9) scale(1,1.03)" class="tl" text-anchor="middle">2025</text>
<line x1="192.5" y1="242.36" x2="194.4" y2="242.36" class="tk"/>
<text transform="translate(191.4,244.71) scale(1,1.03)" class="ty" text-anchor="end">0.28</text>
<line x1="192.5" y1="261.22" x2="194.4" y2="261.22" class="tk"/>
<text transform="translate(191.4,263.57) scale(1,1.03)" class="ty" text-anchor="end">0.25</text>
<line x1="192.5" y1="280.3" x2="194.4" y2="280.3" class="tk"/>
<text transform="translate(191.4,282.65) scale(1,1.03)" class="ty" text-anchor="end">0.23</text>
<line x1="192.5" y1="299.17" x2="194.4" y2="299.17" class="tk"/>
<text transform="translate(191.4,301.52) scale(1,1.03)" class="ty" text-anchor="end">0.20</text>
<line x1="192.5" y1="318.25" x2="194.4" y2="318.25" class="tk"/>
<text transform="translate(191.4,320.6) scale(1,1.03)" class="ty" text-anchor="end">0.18</text>
<text transform="translate(265.7,233.6) scale(1,1.03)" class="ti" text-anchor="middle">Parishan</text>
<text transform="translate(176.5,281.95) scale(1,1.03) rotate(-90)" class="ya" text-anchor="middle">AOD</text>
<polyline points="200.88,301.58 206.28,324.18 211.68,313.87 217.09,283.16 222.49,295.44 227.89,287.32 233.29,302.46 238.69,285.35 244.09,245.43 249.5,239.72 254.9,272.63 260.3,255.08 265.7,258.15 271.1,301.14 276.5,300.49 281.9,267.36 287.31,293.69 292.71,280.74 298.11,277.45 303.51,297.2 308.91,295.88 314.31,271.31 319.72,254.64 325.12,289.3 330.52,275.04" class="ln"/>
<line x1="200.88" y1="293.25" x2="330.52" y2="271.97" class="fit"/>
<circle cx="200.88" cy="301.58" r="1.5" class="mk"/>
<circle cx="206.28" cy="324.18" r="1.5" class="mk"/>
<circle cx="211.68" cy="313.87" r="1.5" class="mk"/>
<circle cx="217.09" cy="283.16" r="1.5" class="mk"/>
<circle cx="222.49" cy="295.44" r="1.5" class="mk"/>
<circle cx="227.89" cy="287.32" r="1.5" class="mk"/>
<circle cx="233.29" cy="302.46" r="1.5" class="mk"/>
<circle cx="238.69" cy="285.35" r="1.5" class="mk"/>
<circle cx="244.09" cy="245.43" r="1.5" class="mk"/>
<circle cx="249.5" cy="239.72" r="1.5" class="mk"/>
<circle cx="254.9" cy="272.63" r="1.5" class="mk"/>
<circle cx="260.3" cy="255.08" r="1.5" class="mk"/>
<circle cx="265.7" cy="258.15" r="1.5" class="mk"/>
<circle cx="271.1" cy="301.14" r="1.5" class="mk"/>
<circle cx="276.5" cy="300.49" r="1.5" class="mk"/>
<circle cx="281.9" cy="267.36" r="1.5" class="mk"/>
<circle cx="287.31" cy="293.69" r="1.5" class="mk"/>
<circle cx="292.71" cy="280.74" r="1.5" class="mk"/>
<circle cx="298.11" cy="277.45" r="1.5" class="mk"/>
<circle cx="303.51" cy="297.2" r="1.5" class="mk"/>
<circle cx="308.91" cy="295.88" r="1.5" class="mk"/>
<circle cx="314.31" cy="271.31" r="1.5" class="mk"/>
<circle cx="319.72" cy="254.64" r="1.5" class="mk"/>
<circle cx="325.12" cy="289.3" r="1.5" class="mk"/>
<circle cx="330.52" cy="275.04" r="1.5" class="mk"/>
<rect x="289.47" y="307.4" width="44.53" height="17.8" rx="1.2" class="lg"/>
<line x1="291.07" y1="312.2" x2="303.07" y2="312.2" class="ln"/>
<circle cx="297.07" cy="312.2" r="1.5" class="mk"/>
<line x1="291.07" y1="320" x2="303.07" y2="320" class="fit"/>
<text transform="translate(307.27,314.9) scale(1,1.03)" class="lt">Parishan</text>
<text transform="translate(307.27,322.7) scale(1,1.03)" class="lt">Linear Fit</text>
<line x1="364.7" y1="235.5" x2="507.3" y2="235.5" class="sp"/>
<line x1="364.2" y1="328.4" x2="507.8" y2="328.4" class="sb"/>
<line x1="507.6" y1="235.5" x2="507.6" y2="328.9" class="sp"/>
<line x1="364.7" y1="235.5" x2="364.7" y2="328.4" class="sp"/>
<line x1="371.18" y1="328.4" x2="371.18" y2="330.2" class="tk"/>
<text transform="translate(371.18,335.9) scale(1,1.03)" class="tl" text-anchor="middle">2000</text>
<line x1="398.19" y1="328.4" x2="398.19" y2="330.2" class="tk"/>
<text transform="translate(398.19,335.9) scale(1,1.03)" class="tl" text-anchor="middle">2005</text>
<line x1="425.2" y1="328.4" x2="425.2" y2="330.2" class="tk"/>
<text transform="translate(425.2,335.9) scale(1,1.03)" class="tl" text-anchor="middle">2010</text>
<line x1="452.2" y1="328.4" x2="452.2" y2="330.2" class="tk"/>
<text transform="translate(452.2,335.9) scale(1,1.03)" class="tl" text-anchor="middle">2015</text>
<line x1="479.21" y1="328.4" x2="479.21" y2="330.2" class="tk"/>
<text transform="translate(479.21,335.9) scale(1,1.03)" class="tl" text-anchor="middle">2020</text>
<line x1="506.22" y1="328.4" x2="506.22" y2="330.2" class="tk"/>
<text transform="translate(506.22,335.9) scale(1,1.03)" class="tl" text-anchor="middle">2025</text>
<line x1="362.8" y1="236.87" x2="364.7" y2="236.87" class="tk"/>
<text transform="translate(361.7,239.22) scale(1,1.03)" class="ty" text-anchor="end">2.00</text>
<line x1="362.8" y1="253.54" x2="364.7" y2="253.54" class="tk"/>
<text transform="translate(361.7,255.89) scale(1,1.03)" class="ty" text-anchor="end">1.75</text>
<line x1="362.8" y1="270.43" x2="364.7" y2="270.43" class="tk"/>
<text transform="translate(361.7,272.78) scale(1,1.03)" class="ty" text-anchor="end">1.50</text>
<line x1="362.8" y1="286.89" x2="364.7" y2="286.89" class="tk"/>
<text transform="translate(361.7,289.24) scale(1,1.03)" class="ty" text-anchor="end">1.25</text>
<line x1="362.8" y1="303.78" x2="364.7" y2="303.78" class="tk"/>
<text transform="translate(361.7,306.13) scale(1,1.03)" class="ty" text-anchor="end">1.00</text>
<line x1="362.8" y1="320.67" x2="364.7" y2="320.67" class="tk"/>
<text transform="translate(361.7,323.02) scale(1,1.03)" class="ty" text-anchor="end">0.75</text>
<text transform="translate(436,233.6) scale(1,1.03)" class="ti" text-anchor="middle">Gavkhouni</text>
<text transform="translate(346.8,281.95) scale(1,1.03) rotate(-90)" class="ya" text-anchor="middle">AOD</text>
<polyline points="371.18,257.49 376.58,295.88 381.98,250.47 387.39,280.09 392.79,278.77 398.19,307.29 403.59,308.82 408.99,261.44 414.39,302.68 419.8,275.92 425.2,262.98 430.6,284.03 436,284.03 441.4,239.72 446.8,258.37 452.2,286.01 457.61,311.02 463.01,308.82 468.41,297.2 473.81,282.28 479.21,312.77 484.61,266.92 490.02,309.04 495.42,302.9 500.82,324.18" class="ln"/>
<line x1="371.18" y1="271.09" x2="500.82" y2="301.14" class="fit"/>
<circle cx="371.18" cy="257.49" r="1.5" class="mk"/>
<circle cx="376.58" cy="295.88" r="1.5" class="mk"/>
<circle cx="381.98" cy="250.47" r="1.5" class="mk"/>
<circle cx="387.39" cy="280.09" r="1.5" class="mk"/>
<circle cx="392.79" cy="278.77" r="1.5" class="mk"/>
<circle cx="398.19" cy="307.29" r="1.5" class="mk"/>
<circle cx="403.59" cy="308.82" r="1.5" class="mk"/>
<circle cx="408.99" cy="261.44" r="1.5" class="mk"/>
<circle cx="414.39" cy="302.68" r="1.5" class="mk"/>
<circle cx="419.8" cy="275.92" r="1.5" class="mk"/>
<circle cx="425.2" cy="262.98" r="1.5" class="mk"/>
<circle cx="430.6" cy="284.03" r="1.5" class="mk"/>
<circle cx="436" cy="284.03" r="1.5" class="mk"/>
<circle cx="441.4" cy="239.72" r="1.5" class="mk"/>
<circle cx="446.8" cy="258.37" r="1.5" class="mk"/>
<circle cx="452.2" cy="286.01" r="1.5" class="mk"/>
<circle cx="457.61" cy="311.02" r="1.5" class="mk"/>
<circle cx="463.01" cy="308.82" r="1.5" class="mk"/>
<circle cx="468.41" cy="297.2" r="1.5" class="mk"/>
<circle cx="473.81" cy="282.28" r="1.5" class="mk"/>
<circle cx="479.21" cy="312.77" r="1.5" class="mk"/>
<circle cx="484.61" cy="266.92" r="1.5" class="mk"/>
<circle cx="490.02" cy="309.04" r="1.5" class="mk"/>
<circle cx="495.42" cy="302.9" r="1.5" class="mk"/>
<circle cx="500.82" cy="324.18" r="1.5" class="mk"/>
<rect x="456.04" y="238.4" width="48.26" height="17.8" rx="1.2" class="lg"/>
<line x1="457.64" y1="243.2" x2="469.64" y2="243.2" class="ln"/>
<circle cx="463.64" cy="243.2" r="1.5" class="mk"/>
<line x1="457.64" y1="251" x2="469.64" y2="251" class="fit"/>
<text transform="translate(473.84,245.9) scale(1,1.03)" class="lt">Gavkhouni</text>
<text transform="translate(473.84,253.7) scale(1,1.03)" class="lt">Linear Fit</text>
<line x1="535" y1="235.5" x2="677.6" y2="235.5" class="sp"/>
<line x1="534.5" y1="328.4" x2="678.1" y2="328.4" class="sb"/>
<line x1="677.9" y1="235.5" x2="677.9" y2="328.9" class="sp"/>
<line x1="541.48" y1="328.4" x2="541.48" y2="330.2" class="tk"/>
<text transform="translate(541.48,335.9) scale(1,1.03)" class="tl" text-anchor="middle">2000</text>
<line x1="568.49" y1="328.4" x2="568.49" y2="330.2" class="tk"/>
<text transform="translate(568.49,335.9) scale(1,1.03)" class="tl" text-anchor="middle">2005</text>
<line x1="595.5" y1="328.4" x2="595.5" y2="330.2" class="tk"/>
<text transform="translate(595.5,335.9) scale(1,1.03)" class="tl" text-anchor="middle">2010</text>
<line x1="622.5" y1="328.4" x2="622.5" y2="330.2" class="tk"/>
<text transform="translate(622.5,335.9) scale(1,1.03)" class="tl" text-anchor="middle">2015</text>
<line x1="649.51" y1="328.4" x2="649.51" y2="330.2" class="tk"/>
<text transform="translate(649.51,335.9) scale(1,1.03)" class="tl" text-anchor="middle">2020</text>
<line x1="676.52" y1="328.4" x2="676.52" y2="330.2" class="tk"/>
<text transform="translate(676.52,335.9) scale(1,1.03)" class="tl" text-anchor="middle">2025</text>
<line x1="533.1" y1="244.12" x2="535" y2="244.12" class="tk"/>
<text transform="translate(532,246.47) scale(1,1.03)" class="ty" text-anchor="end">0.20</text>
<line x1="533.1" y1="268.53" x2="535" y2="268.53" class="tk"/>
<text transform="translate(532,270.88) scale(1,1.03)" class="ty" text-anchor="end">0.18</text>
<line x1="533.1" y1="292.95" x2="535" y2="292.95" class="tk"/>
<text transform="translate(532,295.3) scale(1,1.03)" class="ty" text-anchor="end">0.16</text>
<line x1="533.1" y1="317.14" x2="535" y2="317.14" class="tk"/>
<text transform="translate(532,319.49) scale(1,1.03)" class="ty" text-anchor="end">0.14</text>
<text transform="translate(606.3,233.6) scale(1,1.03)" class="ti" text-anchor="middle">Choghakhor</text>
<text transform="translate(517.1,281.95) scale(1,1.03) rotate(-90)" class="ya" text-anchor="middle">AOD</text>
<polyline points="541.48,290.53 546.88,294.05 552.28,324.18 557.69,313.18 563.09,314.72 568.49,288.55 573.89,291.63 579.29,310.76 584.69,253.14 590.1,258.64 595.5,301.96 600.9,239.72 606.3,277.77 611.7,311.86 617.1,310.1 622.5,321.54 627.91,320.44 633.31,290.09 638.71,295.37 644.11,319.12 649.51,323.96 654.91,315.6 660.32,307.68 665.72,309.66 671.12,297.57" class="ln"/>
<line x1="541.48" y1="291.41" x2="671.12" y2="307.46" class="fit"/>
<circle cx="541.48" cy="290.53" r="1.5" class="mk"/>
<circle cx="546.88" cy="294.05" r="1.5" class="mk"/>
<circle cx="552.28" cy="324.18" r="1.5" class="mk"/>
<circle cx="557.69" cy="313.18" r="1.5" class="mk"/>
<circle cx="563.09" cy="314.72" r="1.5" class="mk"/>
<circle cx="568.49" cy="288.55" r="1.5" class="mk"/>
<circle cx="573.89" cy="291.63" r="1.5" class="mk"/>
<circle cx="579.29" cy="310.76" r="1.5" class="mk"/>
<circle cx="584.69" cy="253.14" r="1.5" class="mk"/>
<circle cx="590.1" cy="258.64" r="1.5" class="mk"/>
<circle cx="595.5" cy="301.96" r="1.5" class="mk"/>
<circle cx="600.9" cy="239.72" r="1.5" class="mk"/>
<circle cx="606.3" cy="277.77" r="1.5" class="mk"/>
<circle cx="611.7" cy="311.86" r="1.5" class="mk"/>
<circle cx="617.1" cy="310.1" r="1.5" class="mk"/>
<circle cx="622.5" cy="321.54" r="1.5" class="mk"/>
<circle cx="627.91" cy="320.44" r="1.5" class="mk"/>
<circle cx="633.31" cy="290.09" r="1.5" class="mk"/>
<circle cx="638.71" cy="295.37" r="1.5" class="mk"/>
<circle cx="644.11" cy="319.12" r="1.5" class="mk"/>
<circle cx="649.51" cy="323.96" r="1.5" class="mk"/>
<circle cx="654.91" cy="315.6" r="1.5" class="mk"/>
<circle cx="660.32" cy="307.68" r="1.5" class="mk"/>
<circle cx="665.72" cy="309.66" r="1.5" class="mk"/>
<circle cx="671.12" cy="297.57" r="1.5" class="mk"/>
<rect x="622.27" y="238.4" width="52.33" height="17.8" rx="1.2" class="lg"/>
<line x1="623.87" y1="243.2" x2="635.87" y2="243.2" class="ln"/>
<circle cx="629.87" cy="243.2" r="1.5" class="mk"/>
<line x1="623.87" y1="251" x2="635.87" y2="251" class="fit"/>
<text transform="translate(640.07,245.9) scale(1,1.03)" class="lt">Choghakhor</text>
<text transform="translate(640.07,253.7) scale(1,1.03)" class="lt">Linear Fit</text>
<line x1="23.6" y1="441.95" x2="167.2" y2="441.95" class="sb"/>
<line x1="167" y1="349.05" x2="167" y2="442.45" class="sp"/>
<line x1="30.58" y1="441.95" x2="30.58" y2="443.75" class="tk"/>
<text transform="translate(30.58,449.45) scale(1,1.03)" class="tl" text-anchor="middle">2000</text>
<line x1="57.59" y1="441.95" x2="57.59" y2="443.75" class="tk"/>
<text transform="translate(57.59,449.45) scale(1,1.03)" class="tl" text-anchor="middle">2005</text>
<line x1="84.6" y1="441.95" x2="84.6" y2="443.75" class="tk"/>
<text transform="translate(84.6,449.45) scale(1,1.03)" class="tl" text-anchor="middle">2010</text>
<line x1="111.6" y1="441.95" x2="111.6" y2="443.75" class="tk"/>
<text transform="translate(111.6,449.45) scale(1,1.03)" class="tl" text-anchor="middle">2015</text>
<line x1="138.61" y1="441.95" x2="138.61" y2="443.75" class="tk"/>
<text transform="translate(138.61,449.45) scale(1,1.03)" class="tl" text-anchor="middle">2020</text>
<line x1="165.62" y1="441.95" x2="165.62" y2="443.75" class="tk"/>
<text transform="translate(165.62,449.45) scale(1,1.03)" class="tl" text-anchor="middle">2025</text>
<line x1="22.2" y1="352.61" x2="24.1" y2="352.61" class="tk"/>
<text transform="translate(21.1,354.96) scale(1,1.03)" class="ty" text-anchor="end">0.45</text>
<line x1="22.2" y1="372.24" x2="24.1" y2="372.24" class="tk"/>
<text transform="translate(21.1,374.59) scale(1,1.03)" class="ty" text-anchor="end">0.40</text>
<line x1="22.2" y1="391.86" x2="24.1" y2="391.86" class="tk"/>
<text transform="translate(21.1,394.21) scale(1,1.03)" class="ty" text-anchor="end">0.35</text>
<line x1="22.2" y1="411.71" x2="24.1" y2="411.71" class="tk"/>
<text transform="translate(21.1,414.06) scale(1,1.03)" class="ty" text-anchor="end">0.30</text>
<line x1="22.2" y1="431.33" x2="24.1" y2="431.33" class="tk"/>
<text transform="translate(21.1,433.68) scale(1,1.03)" class="ty" text-anchor="end">0.25</text>
<text transform="translate(95.4,347.15) scale(1,1.03)" class="ti" text-anchor="middle">Shadegan</text>
<text transform="translate(6.2,395.5) scale(1,1.03) rotate(-90)" class="ya" text-anchor="middle">AOD</text>
<polyline points="30.58,355.92 35.98,421.63 41.38,426.26 46.79,416.34 52.19,428.47 57.59,421.63 62.99,424.28 68.39,411.93 73.79,381.06 79.2,353.27 84.6,377.75 90,392.74 95.4,379.73 100.8,406.19 106.2,420.75 111.6,403.11 117.01,417.88 122.41,409.72 127.81,395.17 133.21,422.07 138.61,422.95 144.01,429.35 149.42,382.16 154.82,433.1 160.22,437.73" class="ln"/>
<line x1="30.58" y1="398.04" x2="160.22" y2="415.68" class="fit"/>
<circle cx="30.58" cy="355.92" r="1.5" class="mk"/>
<circle cx="35.98" cy="421.63" r="1.5" class="mk"/>
<circle cx="41.38" cy="426.26" r="1.5" class="mk"/>
<circle cx="46.79" cy="416.34" r="1.5" class="mk"/>
<circle cx="52.19" cy="428.47" r="1.5" class="mk"/>
<circle cx="57.59" cy="421.63" r="1.5" class="mk"/>
<circle cx="62.99" cy="424.28" r="1.5" class="mk"/>
<circle cx="68.39" cy="411.93" r="1.5" class="mk"/>
<circle cx="73.79" cy="381.06" r="1.5" class="mk"/>
<circle cx="79.2" cy="353.27" r="1.5" class="mk"/>
<circle cx="84.6" cy="377.75" r="1.5" class="mk"/>
<circle cx="90" cy="392.74" r="1.5" class="mk"/>
<circle cx="95.4" cy="379.73" r="1.5" class="mk"/>
<circle cx="100.8" cy="406.19" r="1.5" class="mk"/>
<circle cx="106.2" cy="420.75" r="1.5" class="mk"/>
<circle cx="111.6" cy="403.11" r="1.5" class="mk"/>
<circle cx="117.01" cy="417.88" r="1.5" class="mk"/>
<circle cx="122.41" cy="409.72" r="1.5" class="mk"/>
<circle cx="127.81" cy="395.17" r="1.5" class="mk"/>
<circle cx="133.21" cy="422.07" r="1.5" class="mk"/>
<circle cx="138.61" cy="422.95" r="1.5" class="mk"/>
<circle cx="144.01" cy="429.35" r="1.5" class="mk"/>
<circle cx="149.42" cy="382.16" r="1.5" class="mk"/>
<circle cx="154.82" cy="433.1" r="1.5" class="mk"/>
<circle cx="160.22" cy="437.73" r="1.5" class="mk"/>
<rect x="116.79" y="351.95" width="46.91" height="17.8" rx="1.2" class="lg"/>
<line x1="118.39" y1="356.75" x2="130.39" y2="356.75" class="ln"/>
<circle cx="124.39" cy="356.75" r="1.5" class="mk"/>
<line x1="118.39" y1="364.55" x2="130.39" y2="364.55" class="fit"/>
<text transform="translate(134.59,359.45) scale(1,1.03)" class="lt">Shadegan</text>
<text transform="translate(134.59,367.25) scale(1,1.03)" class="lt">Linear Fit</text>
<line x1="193.9" y1="441.95" x2="337.5" y2="441.95" class="sb"/>
<line x1="337.3" y1="349.05" x2="337.3" y2="442.45" class="sp"/>
<line x1="194.4" y1="349.05" x2="194.4" y2="441.95" class="sp"/>
<line x1="200.88" y1="441.95" x2="200.88" y2="443.75" class="tk"/>
<text transform="translate(200.88,449.45) scale(1,1.03)" class="tl" text-anchor="middle">2000</text>
<line x1="227.89" y1="441.95" x2="227.89" y2="443.75" class="tk"/>
<text transform="translate(227.89,449.45) scale(1,1.03)" class="tl" text-anchor="middle">2005</text>
<line x1="254.9" y1="441.95" x2="254.9" y2="443.75" class="tk"/>
<text transform="translate(254.9,449.45) scale(1,1.03)" class="tl" text-anchor="middle">2010</text>
<line x1="281.9" y1="441.95" x2="281.9" y2="443.75" class="tk"/>
<text transform="translate(281.9,449.45) scale(1,1.03)" class="tl" text-anchor="middle">2015</text>
<line x1="308.91" y1="441.95" x2="308.91" y2="443.75" class="tk"/>
<text transform="translate(308.91,449.45) scale(1,1.03)" class="tl" text-anchor="middle">2020</text>
<line x1="335.92" y1="441.95" x2="335.92" y2="443.75" class="tk"/>
<text transform="translate(335.92,449.45) scale(1,1.03)" class="tl" text-anchor="middle">2025</text>
<line x1="192.5" y1="355.25" x2="194.4" y2="355.25" class="tk"/>
<text transform="translate(191.4,357.6) scale(1,1.03)" class="ty" text-anchor="end">0.35</text>
<line x1="192.5" y1="377.84" x2="194.4" y2="377.84" class="tk"/>
<text transform="translate(191.4,380.19) scale(1,1.03)" class="ty" text-anchor="end">0.30</text>
<line x1="192.5" y1="400.22" x2="194.4" y2="400.22" class="tk"/>
<text transform="translate(191.4,402.57) scale(1,1.03)" class="ty" text-anchor="end">0.25</text>
<line x1="192.5" y1="422.59" x2="194.4" y2="422.59" class="tk"/>
<text transform="translate(191.4,424.94) scale(1,1.03)" class="ty" text-anchor="end">0.20</text>
<text transform="translate(265.7,347.15) scale(1,1.03)" class="ti" text-anchor="middle">Hourolazim</text>
<text transform="translate(176.5,395.5) scale(1,1.03) rotate(-90)" class="ya" text-anchor="middle">AOD</text>
<polyline points="200.88,377.4 206.28,427.64 211.68,424.35 217.09,404.82 222.49,437.73 227.89,416.67 233.29,433.56 238.69,403.73 244.09,357 249.5,353.27 254.9,387.27 260.3,386.18 265.7,359.85 271.1,419.52 276.5,432.68 281.9,398.68 287.31,410.09 292.71,403.73 298.11,385.52 303.51,425.66 308.91,423.47 314.31,421.28 319.72,361.39 325.12,398.68 330.52,422.15" class="ln"/>
<line x1="200.88" y1="404.16" x2="330.52" y2="401.75" class="fit"/>
<circle cx="200.88" cy="377.4" r="1.5" class="mk"/>
<circle cx="206.28" cy="427.64" r="1.5" class="mk"/>
<circle cx="211.68" cy="424.35" r="1.5" class="mk"/>
<circle cx="217.09" cy="404.82" r="1.5" class="mk"/>
<circle cx="222.49" cy="437.73" r="1.5" class="mk"/>
<circle cx="227.89" cy="416.67" r="1.5" class="mk"/>
<circle cx="233.29" cy="433.56" r="1.5" class="mk"/>
<circle cx="238.69" cy="403.73" r="1.5" class="mk"/>
<circle cx="244.09" cy="357" r="1.5" class="mk"/>
<circle cx="249.5" cy="353.27" r="1.5" class="mk"/>
<circle cx="254.9" cy="387.27" r="1.5" class="mk"/>
<circle cx="260.3" cy="386.18" r="1.5" class="mk"/>
<circle cx="265.7" cy="359.85" r="1.5" class="mk"/>
<circle cx="271.1" cy="419.52" r="1.5" class="mk"/>
<circle cx="276.5" cy="432.68" r="1.5" class="mk"/>
<circle cx="281.9" cy="398.68" r="1.5" class="mk"/>
<circle cx="287.31" cy="410.09" r="1.5" class="mk"/>
<circle cx="292.71" cy="403.73" r="1.5" class="mk"/>
<circle cx="298.11" cy="385.52" r="1.5" class="mk"/>
<circle cx="303.51" cy="425.66" r="1.5" class="mk"/>
<circle cx="308.91" cy="423.47" r="1.5" class="mk"/>
<circle cx="314.31" cy="421.28" r="1.5" class="mk"/>
<circle cx="319.72" cy="361.39" r="1.5" class="mk"/>
<circle cx="325.12" cy="398.68" r="1.5" class="mk"/>
<circle cx="330.52" cy="422.15" r="1.5" class="mk"/>
<rect x="284.05" y="351.95" width="49.95" height="17.8" rx="1.2" class="lg"/>
<line x1="285.65" y1="356.75" x2="297.65" y2="356.75" class="ln"/>
<circle cx="291.65" cy="356.75" r="1.5" class="mk"/>
<line x1="285.65" y1="364.55" x2="297.65" y2="364.55" class="fit"/>
<text transform="translate(301.85,359.45) scale(1,1.03)" class="lt">Hourolazim</text>
<text transform="translate(301.85,367.25) scale(1,1.03)" class="lt">Linear Fit</text>
<line x1="364.2" y1="441.95" x2="507.8" y2="441.95" class="sb"/>
<line x1="507.6" y1="349.05" x2="507.6" y2="442.45" class="sp"/>
<line x1="364.7" y1="349.05" x2="364.7" y2="441.95" class="sp"/>
<line x1="371.18" y1="441.95" x2="371.18" y2="443.75" class="tk"/>
<text transform="translate(371.18,449.45) scale(1,1.03)" class="tl" text-anchor="middle">2000</text>
<line x1="398.19" y1="441.95" x2="398.19" y2="443.75" class="tk"/>
<text transform="translate(398.19,449.45) scale(1,1.03)" class="tl" text-anchor="middle">2005</text>
<line x1="425.2" y1="441.95" x2="425.2" y2="443.75" class="tk"/>
<text transform="translate(425.2,449.45) scale(1,1.03)" class="tl" text-anchor="middle">2010</text>
<line x1="452.2" y1="441.95" x2="452.2" y2="443.75" class="tk"/>
<text transform="translate(452.2,449.45) scale(1,1.03)" class="tl" text-anchor="middle">2015</text>
<line x1="479.21" y1="441.95" x2="479.21" y2="443.75" class="tk"/>
<text transform="translate(479.21,449.45) scale(1,1.03)" class="tl" text-anchor="middle">2020</text>
<line x1="506.22" y1="441.95" x2="506.22" y2="443.75" class="tk"/>
<text transform="translate(506.22,449.45) scale(1,1.03)" class="tl" text-anchor="middle">2025</text>
<line x1="362.8" y1="360.73" x2="364.7" y2="360.73" class="tk"/>
<text transform="translate(361.7,363.08) scale(1,1.03)" class="ty" text-anchor="end">0.30</text>
<line x1="362.8" y1="387.05" x2="364.7" y2="387.05" class="tk"/>
<text transform="translate(361.7,389.4) scale(1,1.03)" class="ty" text-anchor="end">0.25</text>
<line x1="362.8" y1="413.38" x2="364.7" y2="413.38" class="tk"/>
<text transform="translate(361.7,415.73) scale(1,1.03)" class="ty" text-anchor="end">0.20</text>
<line x1="362.8" y1="439.7" x2="364.7" y2="439.7" class="tk"/>
<text transform="translate(361.7,442.05) scale(1,1.03)" class="ty" text-anchor="end">0.15</text>
<text transform="translate(436,347.15) scale(1,1.03)" class="ti" text-anchor="middle">Mighan</text>
<text transform="translate(346.8,395.5) scale(1,1.03) rotate(-90)" class="ya" text-anchor="middle">AOD</text>
<polyline points="371.18,369.51 376.58,437.73 381.98,416.67 387.39,403.73 392.79,404.6 398.19,403.29 403.59,422.81 408.99,421.06 414.39,353.27 419.8,379.6 425.2,408.77 430.6,401.53 436,398.46 441.4,419.52 446.8,413.6 452.2,410.53 457.61,408.55 463.01,420.18 468.41,407.46 473.81,422.81 479.21,413.38 484.61,408.33 490.02,388.81 495.42,414.69 500.82,404.16" class="ln"/>
<line x1="371.18" y1="402.63" x2="500.82" y2="409.65" class="fit"/>
<circle cx="371.18" cy="369.51" r="1.5" class="mk"/>
<circle cx="376.58" cy="437.73" r="1.5" class="mk"/>
<circle cx="381.98" cy="416.67" r="1.5" class="mk"/>
<circle cx="387.39" cy="403.73" r="1.5" class="mk"/>
<circle cx="392.79" cy="404.6" r="1.5" class="mk"/>
<circle cx="398.19" cy="403.29" r="1.5" class="mk"/>
<circle cx="403.59" cy="422.81" r="1.5" class="mk"/>
<circle cx="408.99" cy="421.06" r="1.5" class="mk"/>
<circle cx="414.39" cy="353.27" r="1.5" class="mk"/>
<circle cx="419.8" cy="379.6" r="1.5" class="mk"/>
<circle cx="425.2" cy="408.77" r="1.5" class="mk"/>
<circle cx="430.6" cy="401.53" r="1.5" class="mk"/>
<circle cx="436" cy="398.46" r="1.5" class="mk"/>
<circle cx="441.4" cy="419.52" r="1.5" class="mk"/>
<circle cx="446.8" cy="413.6" r="1.5" class="mk"/>
<circle cx="452.2" cy="410.53" r="1.5" class="mk"/>
<circle cx="457.61" cy="408.55" r="1.5" class="mk"/>
<circle cx="463.01" cy="420.18" r="1.5" class="mk"/>
<circle cx="468.41" cy="407.46" r="1.5" class="mk"/>
<circle cx="473.81" cy="422.81" r="1.5" class="mk"/>
<circle cx="479.21" cy="413.38" r="1.5" class="mk"/>
<circle cx="484.61" cy="408.33" r="1.5" class="mk"/>
<circle cx="490.02" cy="388.81" r="1.5" class="mk"/>
<circle cx="495.42" cy="414.69" r="1.5" class="mk"/>
<circle cx="500.82" cy="404.16" r="1.5" class="mk"/>
<rect x="459.77" y="351.95" width="44.53" height="17.8" rx="1.2" class="lg"/>
<line x1="461.37" y1="356.75" x2="473.37" y2="356.75" class="ln"/>
<circle cx="467.37" cy="356.75" r="1.5" class="mk"/>
<line x1="461.37" y1="364.55" x2="473.37" y2="364.55" class="fit"/>
<text transform="translate(477.57,359.45) scale(1,1.03)" class="lt">Mighan</text>
<text transform="translate(477.57,367.25) scale(1,1.03)" class="lt">Linear Fit</text>
<line x1="534.5" y1="441.95" x2="678.1" y2="441.95" class="sb"/>
<line x1="677.9" y1="349.05" x2="677.9" y2="442.45" class="sp"/>
<line x1="541.48" y1="441.95" x2="541.48" y2="443.75" class="tk"/>
<text transform="translate(541.48,449.45) scale(1,1.03)" class="tl" text-anchor="middle">2000</text>
<line x1="568.49" y1="441.95" x2="568.49" y2="443.75" class="tk"/>
<text transform="translate(568.49,449.45) scale(1,1.03)" class="tl" text-anchor="middle">2005</text>
<line x1="595.5" y1="441.95" x2="595.5" y2="443.75" class="tk"/>
<text transform="translate(595.5,449.45) scale(1,1.03)" class="tl" text-anchor="middle">2010</text>
<line x1="622.5" y1="441.95" x2="622.5" y2="443.75" class="tk"/>
<text transform="translate(622.5,449.45) scale(1,1.03)" class="tl" text-anchor="middle">2015</text>
<line x1="649.51" y1="441.95" x2="649.51" y2="443.75" class="tk"/>
<text transform="translate(649.51,449.45) scale(1,1.03)" class="tl" text-anchor="middle">2020</text>
<line x1="676.52" y1="441.95" x2="676.52" y2="443.75" class="tk"/>
<text transform="translate(676.52,449.45) scale(1,1.03)" class="tl" text-anchor="middle">2025</text>
<line x1="533.1" y1="365.74" x2="535" y2="365.74" class="tk"/>
<text transform="translate(532,368.09) scale(1,1.03)" class="ty" text-anchor="end">0.16</text>
<line x1="533.1" y1="392" x2="535" y2="392" class="tk"/>
<text transform="translate(532,394.35) scale(1,1.03)" class="ty" text-anchor="end">0.14</text>
<line x1="533.1" y1="418.47" x2="535" y2="418.47" class="tk"/>
<text transform="translate(532,420.82) scale(1,1.03)" class="ty" text-anchor="end">0.12</text>
<text transform="translate(606.3,347.15) scale(1,1.03)" class="ti" text-anchor="middle">Alagol-Ulmagol</text>
<text transform="translate(517.1,395.5) scale(1,1.03) rotate(-90)" class="ya" text-anchor="middle">AOD</text>
<polyline points="541.48,383.69 546.88,437.73 552.28,431.38 557.69,401.63 563.09,414.75 568.49,413.66 573.89,392.66 579.29,398.56 584.69,353.27 590.1,358.96 595.5,408.41 600.9,391.78 606.3,399 611.7,414.32 617.1,399.44 622.5,420.22 627.91,412.13 633.31,413 638.71,409.5 644.11,417.6 649.51,383.69 654.91,402.72 660.32,397.25 665.72,404.25 671.12,406.88" class="ln"/>
<line x1="541.48" y1="402.94" x2="671.12" y2="402.5" class="fit"/>
<circle cx="541.48" cy="383.69" r="1.5" class="mk"/>
<circle cx="546.88" cy="437.73" r="1.5" class="mk"/>
<circle cx="552.28" cy="431.38" r="1.5" class="mk"/>
<circle cx="557.69" cy="401.63" r="1.5" class="mk"/>
<circle cx="563.09" cy="414.75" r="1.5" class="mk"/>
<circle cx="568.49" cy="413.66" r="1.5" class="mk"/>
<circle cx="573.89" cy="392.66" r="1.5" class="mk"/>
<circle cx="579.29" cy="398.56" r="1.5" class="mk"/>
<circle cx="584.69" cy="353.27" r="1.5" class="mk"/>
<circle cx="590.1" cy="358.96" r="1.5" class="mk"/>
<circle cx="595.5" cy="408.41" r="1.5" class="mk"/>
<circle cx="600.9" cy="391.78" r="1.5" class="mk"/>
<circle cx="606.3" cy="399" r="1.5" class="mk"/>
<circle cx="611.7" cy="414.32" r="1.5" class="mk"/>
<circle cx="617.1" cy="399.44" r="1.5" class="mk"/>
<circle cx="622.5" cy="420.22" r="1.5" class="mk"/>
<circle cx="627.91" cy="412.13" r="1.5" class="mk"/>
<circle cx="633.31" cy="413" r="1.5" class="mk"/>
<circle cx="638.71" cy="409.5" r="1.5" class="mk"/>
<circle cx="644.11" cy="417.6" r="1.5" class="mk"/>
<circle cx="649.51" cy="383.69" r="1.5" class="mk"/>
<circle cx="654.91" cy="402.72" r="1.5" class="mk"/>
<circle cx="660.32" cy="397.25" r="1.5" class="mk"/>
<circle cx="665.72" cy="404.25" r="1.5" class="mk"/>
<circle cx="671.12" cy="406.88" r="1.5" class="mk"/>
<rect x="614.14" y="351.95" width="60.46" height="17.8" rx="1.2" class="lg"/>
<line x1="615.74" y1="356.75" x2="627.74" y2="356.75" class="ln"/>
<circle cx="621.74" cy="356.75" r="1.5" class="mk"/>
<line x1="615.74" y1="364.55" x2="627.74" y2="364.55" class="fit"/>
<text transform="translate(631.94,359.45) scale(1,1.03)" class="lt">Alagol-Ulmagol</text>
<text transform="translate(631.94,367.25) scale(1,1.03)" class="lt">Linear Fit</text>
<line x1="23.6" y1="555.5" x2="167.2" y2="555.5" class="sb"/>
<line x1="167" y1="462.6" x2="167" y2="556" class="sp"/>
<line x1="30.58" y1="555.5" x2="30.58" y2="557.3" class="tk"/>
<text transform="translate(30.58,563) scale(1,1.03)" class="tl" text-anchor="middle">2000</text>
<line x1="57.59" y1="555.5" x2="57.59" y2="557.3" class="tk"/>
<text transform="translate(57.59,563) scale(1,1.03)" class="tl" text-anchor="middle">2005</text>
<line x1="84.6" y1="555.5" x2="84.6" y2="557.3" class="tk"/>
<text transform="translate(84.6,563) scale(1,1.03)" class="tl" text-anchor="middle">2010</text>
<line x1="111.6" y1="555.5" x2="111.6" y2="557.3" class="tk"/>
<text transform="translate(111.6,563) scale(1,1.03)" class="tl" text-anchor="middle">2015</text>
<line x1="138.61" y1="555.5" x2="138.61" y2="557.3" class="tk"/>
<text transform="translate(138.61,563) scale(1,1.03)" class="tl" text-anchor="middle">2020</text>
<line x1="165.62" y1="555.5" x2="165.62" y2="557.3" class="tk"/>
<text transform="translate(165.62,563) scale(1,1.03)" class="tl" text-anchor="middle">2025</text>
<line x1="22.2" y1="463.96" x2="24.1" y2="463.96" class="tk"/>
<text transform="translate(21.1,466.31) scale(1,1.03)" class="ty" text-anchor="end">0.20</text>
<line x1="22.2" y1="486.84" x2="24.1" y2="486.84" class="tk"/>
<text transform="translate(21.1,489.19) scale(1,1.03)" class="ty" text-anchor="end">0.18</text>
<line x1="22.2" y1="509.71" x2="24.1" y2="509.71" class="tk"/>
<text transform="translate(21.1,512.06) scale(1,1.03)" class="ty" text-anchor="end">0.16</text>
<line x1="22.2" y1="532.58" x2="24.1" y2="532.58" class="tk"/>
<text transform="translate(21.1,534.93) scale(1,1.03)" class="ty" text-anchor="end">0.14</text>
<line x1="22.2" y1="555.46" x2="24.1" y2="555.46" class="tk"/>
<text transform="translate(21.1,557.81) scale(1,1.03)" class="ty" text-anchor="end">0.12</text>
<text transform="translate(95.4,460.7) scale(1,1.03)" class="ti" text-anchor="middle">Zarivar</text>
<text transform="translate(6.2,509.05) scale(1,1.03) rotate(-90)" class="ya" text-anchor="middle">AOD</text>
<polyline points="30.58,516.09 35.98,540.28 41.38,538.96 46.79,513.89 52.19,549.52 57.59,537.2 62.99,533.02 68.39,523.13 73.79,473.64 79.2,466.82 84.6,493.65 90,472.32 95.4,479.8 100.8,533.9 106.2,539.62 111.6,525.98 117.01,517.19 122.41,526.42 127.81,532.36 133.21,529.5 138.61,522.47 144.01,545.34 149.42,510.37 154.82,541.38 160.22,551.28" class="ln"/>
<line x1="30.58" y1="514.55" x2="160.22" y2="526.86" class="fit"/>
<circle cx="30.58" cy="516.09" r="1.5" class="mk"/>
<circle cx="35.98" cy="540.28" r="1.5" class="mk"/>
<circle cx="41.38" cy="538.96" r="1.5" class="mk"/>
<circle cx="46.79" cy="513.89" r="1.5" class="mk"/>
<circle cx="52.19" cy="549.52" r="1.5" class="mk"/>
<circle cx="57.59" cy="537.2" r="1.5" class="mk"/>
<circle cx="62.99" cy="533.02" r="1.5" class="mk"/>
<circle cx="68.39" cy="523.13" r="1.5" class="mk"/>
<circle cx="73.79" cy="473.64" r="1.5" class="mk"/>
<circle cx="79.2" cy="466.82" r="1.5" class="mk"/>
<circle cx="84.6" cy="493.65" r="1.5" class="mk"/>
<circle cx="90" cy="472.32" r="1.5" class="mk"/>
<circle cx="95.4" cy="479.8" r="1.5" class="mk"/>
<circle cx="100.8" cy="533.9" r="1.5" class="mk"/>
<circle cx="106.2" cy="539.62" r="1.5" class="mk"/>
<circle cx="111.6" cy="525.98" r="1.5" class="mk"/>
<circle cx="117.01" cy="517.19" r="1.5" class="mk"/>
<circle cx="122.41" cy="526.42" r="1.5" class="mk"/>
<circle cx="127.81" cy="532.36" r="1.5" class="mk"/>
<circle cx="133.21" cy="529.5" r="1.5" class="mk"/>
<circle cx="138.61" cy="522.47" r="1.5" class="mk"/>
<circle cx="144.01" cy="545.34" r="1.5" class="mk"/>
<circle cx="149.42" cy="510.37" r="1.5" class="mk"/>
<circle cx="154.82" cy="541.38" r="1.5" class="mk"/>
<circle cx="160.22" cy="551.28" r="1.5" class="mk"/>
<rect x="119.17" y="465.5" width="44.53" height="17.8" rx="1.2" class="lg"/>
<line x1="120.77" y1="470.3" x2="132.77" y2="470.3" class="ln"/>
<circle cx="126.77" cy="470.3" r="1.5" class="mk"/>
<line x1="120.77" y1="478.1" x2="132.77" y2="478.1" class="fit"/>
<text transform="translate(136.97,473) scale(1,1.03)" class="lt">Zarivar</text>
<text transform="translate(136.97,480.8) scale(1,1.03)" class="lt">Linear Fit</text>
<line x1="193.9" y1="555.5" x2="337.5" y2="555.5" class="sb"/>
<line x1="337.3" y1="462.6" x2="337.3" y2="556" class="sp"/>
<line x1="194.4" y1="462.6" x2="194.4" y2="555.5" class="sp"/>
<line x1="200.88" y1="555.5" x2="200.88" y2="557.3" class="tk"/>
<text transform="translate(200.88,563) scale(1,1.03)" class="tl" text-anchor="middle">2000</text>
<line x1="227.89" y1="555.5" x2="227.89" y2="557.3" class="tk"/>
<text transform="translate(227.89,563) scale(1,1.03)" class="tl" text-anchor="middle">2005</text>
<line x1="254.9" y1="555.5" x2="254.9" y2="557.3" class="tk"/>
<text transform="translate(254.9,563) scale(1,1.03)" class="tl" text-anchor="middle">2010</text>
<line x1="281.9" y1="555.5" x2="281.9" y2="557.3" class="tk"/>
<text transform="translate(281.9,563) scale(1,1.03)" class="tl" text-anchor="middle">2015</text>
<line x1="308.91" y1="555.5" x2="308.91" y2="557.3" class="tk"/>
<text transform="translate(308.91,563) scale(1,1.03)" class="tl" text-anchor="middle">2020</text>
<line x1="335.92" y1="555.5" x2="335.92" y2="557.3" class="tk"/>
<text transform="translate(335.92,563) scale(1,1.03)" class="tl" text-anchor="middle">2025</text>
<line x1="192.5" y1="469.46" x2="194.4" y2="469.46" class="tk"/>
<text transform="translate(191.4,471.81) scale(1,1.03)" class="ty" text-anchor="end">0.22</text>
<line x1="192.5" y1="494.24" x2="194.4" y2="494.24" class="tk"/>
<text transform="translate(191.4,496.59) scale(1,1.03)" class="ty" text-anchor="end">0.20</text>
<line x1="192.5" y1="519.03" x2="194.4" y2="519.03" class="tk"/>
<text transform="translate(191.4,521.38) scale(1,1.03)" class="ty" text-anchor="end">0.18</text>
<line x1="192.5" y1="543.82" x2="194.4" y2="543.82" class="tk"/>
<text transform="translate(191.4,546.17) scale(1,1.03)" class="ty" text-anchor="end">0.16</text>
<text transform="translate(265.7,460.7) scale(1,1.03)" class="ti" text-anchor="middle">Kanibarazan</text>
<text transform="translate(176.5,509.05) scale(1,1.03) rotate(-90)" class="ya" text-anchor="middle">AOD</text>
<polyline points="200.88,528.46 206.28,510.04 211.68,511.13 217.09,513.33 222.49,541.19 227.89,549.52 233.29,528.68 238.69,517.71 244.09,471.43 249.5,466.82 254.9,512.67 260.3,501.48 265.7,515.96 271.1,541.63 276.5,539.43 281.9,542.94 287.31,536.8 292.71,510.04 298.11,532.41 303.51,551.28 308.91,525.83 314.31,531.53 319.72,520.57 325.12,535.92 330.52,506.31" class="ln"/>
<line x1="200.88" y1="515.3" x2="330.52" y2="528.68" class="fit"/>
<circle cx="200.88" cy="528.46" r="1.5" class="mk"/>
<circle cx="206.28" cy="510.04" r="1.5" class="mk"/>
<circle cx="211.68" cy="511.13" r="1.5" class="mk"/>
<circle cx="217.09" cy="513.33" r="1.5" class="mk"/>
<circle cx="222.49" cy="541.19" r="1.5" class="mk"/>
<circle cx="227.89" cy="549.52" r="1.5" class="mk"/>
<circle cx="233.29" cy="528.68" r="1.5" class="mk"/>
<circle cx="238.69" cy="517.71" r="1.5" class="mk"/>
<circle cx="244.09" cy="471.43" r="1.5" class="mk"/>
<circle cx="249.5" cy="466.82" r="1.5" class="mk"/>
<circle cx="254.9" cy="512.67" r="1.5" class="mk"/>
<circle cx="260.3" cy="501.48" r="1.5" class="mk"/>
<circle cx="265.7" cy="515.96" r="1.5" class="mk"/>
<circle cx="271.1" cy="541.63" r="1.5" class="mk"/>
<circle cx="276.5" cy="539.43" r="1.5" class="mk"/>
<circle cx="281.9" cy="542.94" r="1.5" class="mk"/>
<circle cx="287.31" cy="536.8" r="1.5" class="mk"/>
<circle cx="292.71" cy="510.04" r="1.5" class="mk"/>
<circle cx="298.11" cy="532.41" r="1.5" class="mk"/>
<circle cx="303.51" cy="551.28" r="1.5" class="mk"/>
<circle cx="308.91" cy="525.83" r="1.5" class="mk"/>
<circle cx="314.31" cy="531.53" r="1.5" class="mk"/>
<circle cx="319.72" cy="520.57" r="1.5" class="mk"/>
<circle cx="325.12" cy="535.92" r="1.5" class="mk"/>
<circle cx="330.52" cy="506.31" r="1.5" class="mk"/>
<rect x="280.65" y="465.5" width="53.35" height="17.8" rx="1.2" class="lg"/>
<line x1="282.25" y1="470.3" x2="294.25" y2="470.3" class="ln"/>
<circle cx="288.25" cy="470.3" r="1.5" class="mk"/>
<line x1="282.25" y1="478.1" x2="294.25" y2="478.1" class="fit"/>
<text transform="translate(298.45,473) scale(1,1.03)" class="lt">Kanibarazan</text>
<text transform="translate(298.45,480.8) scale(1,1.03)" class="lt">Linear Fit</text>
<line x1="364.2" y1="555.5" x2="507.8" y2="555.5" class="sb"/>
<line x1="507.6" y1="462.6" x2="507.6" y2="556" class="sp"/>
<line x1="364.7" y1="462.6" x2="364.7" y2="555.5" class="sp"/>
<line x1="371.18" y1="555.5" x2="371.18" y2="557.3" class="tk"/>
<text transform="translate(371.18,563) scale(1,1.03)" class="tl" text-anchor="middle">2000</text>
<line x1="398.19" y1="555.5" x2="398.19" y2="557.3" class="tk"/>
<text transform="translate(398.19,563) scale(1,1.03)" class="tl" text-anchor="middle">2005</text>
<line x1="425.2" y1="555.5" x2="425.2" y2="557.3" class="tk"/>
<text transform="translate(425.2,563) scale(1,1.03)" class="tl" text-anchor="middle">2010</text>
<line x1="452.2" y1="555.5" x2="452.2" y2="557.3" class="tk"/>
<text transform="translate(452.2,563) scale(1,1.03)" class="tl" text-anchor="middle">2015</text>
<line x1="479.21" y1="555.5" x2="479.21" y2="557.3" class="tk"/>
<text transform="translate(479.21,563) scale(1,1.03)" class="tl" text-anchor="middle">2020</text>
<line x1="506.22" y1="555.5" x2="506.22" y2="557.3" class="tk"/>
<text transform="translate(506.22,563) scale(1,1.03)" class="tl" text-anchor="middle">2025</text>
<line x1="362.8" y1="465.05" x2="364.7" y2="465.05" class="tk"/>
<text transform="translate(361.7,467.4) scale(1,1.03)" class="ty" text-anchor="end">0.22</text>
<line x1="362.8" y1="486.72" x2="364.7" y2="486.72" class="tk"/>
<text transform="translate(361.7,489.07) scale(1,1.03)" class="ty" text-anchor="end">0.20</text>
<line x1="362.8" y1="508.83" x2="364.7" y2="508.83" class="tk"/>
<text transform="translate(361.7,511.18) scale(1,1.03)" class="ty" text-anchor="end">0.18</text>
<line x1="362.8" y1="530.72" x2="364.7" y2="530.72" class="tk"/>
<text transform="translate(361.7,533.07) scale(1,1.03)" class="ty" text-anchor="end">0.16</text>
<line x1="362.8" y1="552.6" x2="364.7" y2="552.6" class="tk"/>
<text transform="translate(361.7,554.95) scale(1,1.03)" class="ty" text-anchor="end">0.14</text>
<text transform="translate(436,460.7) scale(1,1.03)" class="ti" text-anchor="middle">Shurgol-Yadegarlu-Dorgeh</text>
<text transform="translate(346.8,509.05) scale(1,1.03) rotate(-90)" class="ya" text-anchor="middle">AOD</text>
<polyline points="371.18,525.19 376.58,545.31 381.98,539.34 387.39,539.78 392.79,551.28 398.19,537.57 403.59,532.04 408.99,520.1 414.39,467.26 419.8,466.82 425.2,509.27 430.6,506.62 436,518.11 441.4,530.5 446.8,546.86 452.2,528.51 457.61,534.25 463.01,515.02 468.41,530.94 473.81,541.33 479.21,523.2 484.61,531.38 490.02,517.67 495.42,519.44 500.82,522.32" class="ln"/>
<line x1="371.18" y1="526.74" x2="500.82" y2="521.43" class="fit"/>
<circle cx="371.18" cy="525.19" r="1.5" class="mk"/>
<circle cx="376.58" cy="545.31" r="1.5" class="mk"/>
<circle cx="381.98" cy="539.34" r="1.5" class="mk"/>
<circle cx="387.39" cy="539.78" r="1.5" class="mk"/>
<circle cx="392.79" cy="551.28" r="1.5" class="mk"/>
<circle cx="398.19" cy="537.57" r="1.5" class="mk"/>
<circle cx="403.59" cy="532.04" r="1.5" class="mk"/>
<circle cx="408.99" cy="520.1" r="1.5" class="mk"/>
<circle cx="414.39" cy="467.26" r="1.5" class="mk"/>
<circle cx="419.8" cy="466.82" r="1.5" class="mk"/>
<circle cx="425.2" cy="509.27" r="1.5" class="mk"/>
<circle cx="430.6" cy="506.62" r="1.5" class="mk"/>
<circle cx="436" cy="518.11" r="1.5" class="mk"/>
<circle cx="441.4" cy="530.5" r="1.5" class="mk"/>
<circle cx="446.8" cy="546.86" r="1.5" class="mk"/>
<circle cx="452.2" cy="528.51" r="1.5" class="mk"/>
<circle cx="457.61" cy="534.25" r="1.5" class="mk"/>
<circle cx="463.01" cy="515.02" r="1.5" class="mk"/>
<circle cx="468.41" cy="530.94" r="1.5" class="mk"/>
<circle cx="473.81" cy="541.33" r="1.5" class="mk"/>
<circle cx="479.21" cy="523.2" r="1.5" class="mk"/>
<circle cx="484.61" cy="531.38" r="1.5" class="mk"/>
<circle cx="490.02" cy="517.67" r="1.5" class="mk"/>
<circle cx="495.42" cy="519.44" r="1.5" class="mk"/>
<circle cx="500.82" cy="522.32" r="1.5" class="mk"/>
<rect x="412.75" y="465.5" width="91.55" height="17.8" rx="1.2" class="lg"/>
<line x1="414.35" y1="470.3" x2="426.35" y2="470.3" class="ln"/>
<circle cx="420.35" cy="470.3" r="1.5" class="mk"/>
<line x1="414.35" y1="478.1" x2="426.35" y2="478.1" class="fit"/>
<text transform="translate(430.55,473) scale(1,1.03)" class="lt">Shurgol-Yadegarlu-Dorgeh</text>
<text transform="translate(430.55,480.8) scale(1,1.03)" class="lt">Linear Fit</text>
<line x1="534.5" y1="555.5" x2="678.1" y2="555.5" class="sb"/>
<line x1="677.9" y1="462.6" x2="677.9" y2="556" class="sp"/>
<line x1="541.48" y1="555.5" x2="541.48" y2="557.3" class="tk"/>
<text transform="translate(541.48,563) scale(1,1.03)" class="tl" text-anchor="middle">2000</text>
<line x1="568.49" y1="555.5" x2="568.49" y2="557.3" class="tk"/>
<text transform="translate(568.49,563) scale(1,1.03)" class="tl" text-anchor="middle">2005</text>
<line x1="595.5" y1="555.5" x2="595.5" y2="557.3" class="tk"/>
<text transform="translate(595.5,563) scale(1,1.03)" class="tl" text-anchor="middle">2010</text>
<line x1="622.5" y1="555.5" x2="622.5" y2="557.3" class="tk"/>
<text transform="translate(622.5,563) scale(1,1.03)" class="tl" text-anchor="middle">2015</text>
<line x1="649.51" y1="555.5" x2="649.51" y2="557.3" class="tk"/>
<text transform="translate(649.51,563) scale(1,1.03)" class="tl" text-anchor="middle">2020</text>
<line x1="676.52" y1="555.5" x2="676.52" y2="557.3" class="tk"/>
<text transform="translate(676.52,563) scale(1,1.03)" class="tl" text-anchor="middle">2025</text>
<line x1="533.1" y1="477.3" x2="535" y2="477.3" class="tk"/>
<text transform="translate(532,479.65) scale(1,1.03)" class="ty" text-anchor="end">0.40</text>
<line x1="533.1" y1="502.7" x2="535" y2="502.7" class="tk"/>
<text transform="translate(532,505.05) scale(1,1.03)" class="ty" text-anchor="end">0.30</text>
<line x1="533.1" y1="528.33" x2="535" y2="528.33" class="tk"/>
<text transform="translate(532,530.68) scale(1,1.03)" class="ty" text-anchor="end">0.20</text>
<line x1="533.1" y1="553.95" x2="535" y2="553.95" class="tk"/>
<text transform="translate(532,556.3) scale(1,1.03)" class="ty" text-anchor="end">0.10</text>
<text transform="translate(606.3,460.7) scale(1,1.03)" class="ti" text-anchor="middle">Urmia lake</text>
<text transform="translate(517.1,509.05) scale(1,1.03) rotate(-90)" class="ya" text-anchor="middle">AOD</text>
<polyline points="541.48,537.91 546.88,547.04 552.28,551.28 557.69,540.58 563.09,548.83 568.49,549.94 573.89,549.27 579.29,547.93 584.69,525.21 590.1,517.63 595.5,525.43 600.9,506.04 606.3,512.5 611.7,523.2 617.1,518.74 622.5,524.09 627.91,535.46 633.31,520.53 638.71,526.54 644.11,539.69 649.51,532.56 654.91,526.1 660.32,467.05 665.72,466.82 671.12,481.08" class="ln"/>
<line x1="541.48" y1="552.61" x2="671.12" y2="497.57" class="fit"/>
<circle cx="541.48" cy="537.91" r="1.5" class="mk"/>
<circle cx="546.88" cy="547.04" r="1.5" class="mk"/>
<circle cx="552.28" cy="551.28" r="1.5" class="mk"/>
<circle cx="557.69" cy="540.58" r="1.5" class="mk"/>
<circle cx="563.09" cy="548.83" r="1.5" class="mk"/>
<circle cx="568.49" cy="549.94" r="1.5" class="mk"/>
<circle cx="573.89" cy="549.27" r="1.5" class="mk"/>
<circle cx="579.29" cy="547.93" r="1.5" class="mk"/>
<circle cx="584.69" cy="525.21" r="1.5" class="mk"/>
<circle cx="590.1" cy="517.63" r="1.5" class="mk"/>
<circle cx="595.5" cy="525.43" r="1.5" class="mk"/>
<circle cx="600.9" cy="506.04" r="1.5" class="mk"/>
<circle cx="606.3" cy="512.5" r="1.5" class="mk"/>
<circle cx="611.7" cy="523.2" r="1.5" class="mk"/>
<circle cx="617.1" cy="518.74" r="1.5" class="mk"/>
<circle cx="622.5" cy="524.09" r="1.5" class="mk"/>
<circle cx="627.91" cy="535.46" r="1.5" class="mk"/>
<circle cx="633.31" cy="520.53" r="1.5" class="mk"/>
<circle cx="638.71" cy="526.54" r="1.5" class="mk"/>
<circle cx="644.11" cy="539.69" r="1.5" class="mk"/>
<circle cx="649.51" cy="532.56" r="1.5" class="mk"/>
<circle cx="654.91" cy="526.1" r="1.5" class="mk"/>
<circle cx="660.32" cy="467.05" r="1.5" class="mk"/>
<circle cx="665.72" cy="466.82" r="1.5" class="mk"/>
<circle cx="671.12" cy="481.08" r="1.5" class="mk"/>
<rect x="538" y="465.5" width="48.25" height="17.8" rx="1.2" class="lg"/>
<line x1="539.6" y1="470.3" x2="551.6" y2="470.3" class="ln"/>
<circle cx="545.6" cy="470.3" r="1.5" class="mk"/>
<line x1="539.6" y1="478.1" x2="551.6" y2="478.1" class="fit"/>
<text transform="translate(555.8,473) scale(1,1.03)" class="lt">Urmia lake</text>
<text transform="translate(555.8,480.8) scale(1,1.03)" class="lt">Linear Fit</text>
<line x1="23.6" y1="669.05" x2="167.2" y2="669.05" class="sb"/>
<line x1="167" y1="576.15" x2="167" y2="669.55" class="sp"/>
<line x1="30.58" y1="669.05" x2="30.58" y2="670.85" class="tk"/>
<text transform="translate(30.58,676.55) scale(1,1.03)" class="tl" text-anchor="middle">2000</text>
<line x1="57.59" y1="669.05" x2="57.59" y2="670.85" class="tk"/>
<text transform="translate(57.59,676.55) scale(1,1.03)" class="tl" text-anchor="middle">2005</text>
<line x1="84.6" y1="669.05" x2="84.6" y2="670.85" class="tk"/>
<text transform="translate(84.6,676.55) scale(1,1.03)" class="tl" text-anchor="middle">2010</text>
<line x1="111.6" y1="669.05" x2="111.6" y2="670.85" class="tk"/>
<text transform="translate(111.6,676.55) scale(1,1.03)" class="tl" text-anchor="middle">2015</text>
<line x1="138.61" y1="669.05" x2="138.61" y2="670.85" class="tk"/>
<text transform="translate(138.61,676.55) scale(1,1.03)" class="tl" text-anchor="middle">2020</text>
<line x1="165.62" y1="669.05" x2="165.62" y2="670.85" class="tk"/>
<text transform="translate(165.62,676.55) scale(1,1.03)" class="tl" text-anchor="middle">2025</text>
<line x1="22.2" y1="584.53" x2="24.1" y2="584.53" class="tk"/>
<text transform="translate(21.1,586.88) scale(1,1.03)" class="ty" text-anchor="end">0.24</text>
<line x1="22.2" y1="600.5" x2="24.1" y2="600.5" class="tk"/>
<text transform="translate(21.1,602.85) scale(1,1.03)" class="ty" text-anchor="end">0.22</text>
<line x1="22.2" y1="616.47" x2="24.1" y2="616.47" class="tk"/>
<text transform="translate(21.1,618.82) scale(1,1.03)" class="ty" text-anchor="end">0.20</text>
<line x1="22.2" y1="632.45" x2="24.1" y2="632.45" class="tk"/>
<text transform="translate(21.1,634.8) scale(1,1.03)" class="ty" text-anchor="end">0.18</text>
<line x1="22.2" y1="648.64" x2="24.1" y2="648.64" class="tk"/>
<text transform="translate(21.1,650.99) scale(1,1.03)" class="ty" text-anchor="end">0.16</text>
<line x1="22.2" y1="664.39" x2="24.1" y2="664.39" class="tk"/>
<text transform="translate(21.1,666.74) scale(1,1.03)" class="ty" text-anchor="end">0.14</text>
<text transform="translate(95.4,574.25) scale(1,1.03)" class="ti" text-anchor="middle">Anzali</text>
<text transform="translate(6.2,622.6) scale(1,1.03) rotate(-90)" class="ya" text-anchor="middle">AOD</text>
<polyline points="30.58,649.51 35.98,632.66 41.38,588.25 46.79,658.26 52.19,642.95 57.59,644.48 62.99,664.83 68.39,642.29 73.79,624.35 79.2,580.37 84.6,655.86 90,632.23 95.4,638.57 100.8,645.79 106.2,638.79 111.6,656.08 117.01,654.33 122.41,651.04 127.81,643.82 133.21,654.33 138.61,628.29 144.01,629.82 149.42,627.63 154.82,641.2 160.22,618.01" class="ln"/>
<line x1="30.58" y1="637.26" x2="160.22" y2="638.35" class="fit"/>
<circle cx="30.58" cy="649.51" r="1.5" class="mk"/>
<circle cx="35.98" cy="632.66" r="1.5" class="mk"/>
<circle cx="41.38" cy="588.25" r="1.5" class="mk"/>
<circle cx="46.79" cy="658.26" r="1.5" class="mk"/>
<circle cx="52.19" cy="642.95" r="1.5" class="mk"/>
<circle cx="57.59" cy="644.48" r="1.5" class="mk"/>
<circle cx="62.99" cy="664.83" r="1.5" class="mk"/>
<circle cx="68.39" cy="642.29" r="1.5" class="mk"/>
<circle cx="73.79" cy="624.35" r="1.5" class="mk"/>
<circle cx="79.2" cy="580.37" r="1.5" class="mk"/>
<circle cx="84.6" cy="655.86" r="1.5" class="mk"/>
<circle cx="90" cy="632.23" r="1.5" class="mk"/>
<circle cx="95.4" cy="638.57" r="1.5" class="mk"/>
<circle cx="100.8" cy="645.79" r="1.5" class="mk"/>
<circle cx="106.2" cy="638.79" r="1.5" class="mk"/>
<circle cx="111.6" cy="656.08" r="1.5" class="mk"/>
<circle cx="117.01" cy="654.33" r="1.5" class="mk"/>
<circle cx="122.41" cy="651.04" r="1.5" class="mk"/>
<circle cx="127.81" cy="643.82" r="1.5" class="mk"/>
<circle cx="133.21" cy="654.33" r="1.5" class="mk"/>
<circle cx="138.61" cy="628.29" r="1.5" class="mk"/>
<circle cx="144.01" cy="629.82" r="1.5" class="mk"/>
<circle cx="149.42" cy="627.63" r="1.5" class="mk"/>
<circle cx="154.82" cy="641.2" r="1.5" class="mk"/>
<circle cx="160.22" cy="618.01" r="1.5" class="mk"/>
<rect x="119.17" y="579.05" width="44.53" height="17.8" rx="1.2" class="lg"/>
<line x1="120.77" y1="583.85" x2="132.77" y2="583.85" class="ln"/>
<circle cx="126.77" cy="583.85" r="1.5" class="mk"/>
<line x1="120.77" y1="591.65" x2="132.77" y2="591.65" class="fit"/>
<text transform="translate(136.97,586.55) scale(1,1.03)" class="lt">Anzali</text>
<text transform="translate(136.97,594.35) scale(1,1.03)" class="lt">Linear Fit</text>
<line x1="193.9" y1="669.05" x2="337.5" y2="669.05" class="sb"/>
<line x1="337.3" y1="576.15" x2="337.3" y2="669.55" class="sp"/>
<line x1="194.4" y1="576.15" x2="194.4" y2="669.05" class="sp"/>
<line x1="200.88" y1="669.05" x2="200.88" y2="670.85" class="tk"/>
<text transform="translate(200.88,676.55) scale(1,1.03)" class="tl" text-anchor="middle">2000</text>
<line x1="227.89" y1="669.05" x2="227.89" y2="670.85" class="tk"/>
<text transform="translate(227.89,676.55) scale(1,1.03)" class="tl" text-anchor="middle">2005</text>
<line x1="254.9" y1="669.05" x2="254.9" y2="670.85" class="tk"/>
<text transform="translate(254.9,676.55) scale(1,1.03)" class="tl" text-anchor="middle">2010</text>
<line x1="281.9" y1="669.05" x2="281.9" y2="670.85" class="tk"/>
<text transform="translate(281.9,676.55) scale(1,1.03)" class="tl" text-anchor="middle">2015</text>
<line x1="308.91" y1="669.05" x2="308.91" y2="670.85" class="tk"/>
<text transform="translate(308.91,676.55) scale(1,1.03)" class="tl" text-anchor="middle">2020</text>
<line x1="335.92" y1="669.05" x2="335.92" y2="670.85" class="tk"/>
<text transform="translate(335.92,676.55) scale(1,1.03)" class="tl" text-anchor="middle">2025</text>
<line x1="192.5" y1="584.54" x2="194.4" y2="584.54" class="tk"/>
<text transform="translate(191.4,586.89) scale(1,1.03)" class="ty" text-anchor="end">0.22</text>
<line x1="192.5" y1="608.45" x2="194.4" y2="608.45" class="tk"/>
<text transform="translate(191.4,610.8) scale(1,1.03)" class="ty" text-anchor="end">0.20</text>
<line x1="192.5" y1="632.14" x2="194.4" y2="632.14" class="tk"/>
<text transform="translate(191.4,634.49) scale(1,1.03)" class="ty" text-anchor="end">0.18</text>
<line x1="192.5" y1="655.83" x2="194.4" y2="655.83" class="tk"/>
<text transform="translate(191.4,658.18) scale(1,1.03)" class="ty" text-anchor="end">0.16</text>
<text transform="translate(265.7,574.25) scale(1,1.03)" class="ti" text-anchor="middle">Boujgah</text>
<text transform="translate(176.5,622.6) scale(1,1.03) rotate(-90)" class="ya" text-anchor="middle">AOD</text>
<polyline points="200.88,630.39 206.28,639.82 211.68,618.54 217.09,600.99 222.49,657.37 227.89,648.38 233.29,647.72 238.69,638.5 244.09,580.37 249.5,609.55 254.9,638.28 260.3,597.48 265.7,609.11 271.1,638.72 276.5,656.71 281.9,664.83 287.31,664.83 292.71,641.36 298.11,646.62 303.51,640.26 308.91,638.28 314.31,638.72 319.72,611.52 325.12,633.9 330.52,620.52" class="ln"/>
<line x1="200.88" y1="628.41" x2="330.52" y2="636.75" class="fit"/>
<circle cx="200.88" cy="630.39" r="1.5" class="mk"/>
<circle cx="206.28" cy="639.82" r="1.5" class="mk"/>
<circle cx="211.68" cy="618.54" r="1.5" class="mk"/>
<circle cx="217.09" cy="600.99" r="1.5" class="mk"/>
<circle cx="222.49" cy="657.37" r="1.5" class="mk"/>
<circle cx="227.89" cy="648.38" r="1.5" class="mk"/>
<circle cx="233.29" cy="647.72" r="1.5" class="mk"/>
<circle cx="238.69" cy="638.5" r="1.5" class="mk"/>
<circle cx="244.09" cy="580.37" r="1.5" class="mk"/>
<circle cx="249.5" cy="609.55" r="1.5" class="mk"/>
<circle cx="254.9" cy="638.28" r="1.5" class="mk"/>
<circle cx="260.3" cy="597.48" r="1.5" class="mk"/>
<circle cx="265.7" cy="609.11" r="1.5" class="mk"/>
<circle cx="271.1" cy="638.72" r="1.5" class="mk"/>
<circle cx="276.5" cy="656.71" r="1.5" class="mk"/>
<circle cx="281.9" cy="664.83" r="1.5" class="mk"/>
<circle cx="287.31" cy="664.83" r="1.5" class="mk"/>
<circle cx="292.71" cy="641.36" r="1.5" class="mk"/>
<circle cx="298.11" cy="646.62" r="1.5" class="mk"/>
<circle cx="303.51" cy="640.26" r="1.5" class="mk"/>
<circle cx="308.91" cy="638.28" r="1.5" class="mk"/>
<circle cx="314.31" cy="638.72" r="1.5" class="mk"/>
<circle cx="319.72" cy="611.52" r="1.5" class="mk"/>
<circle cx="325.12" cy="633.9" r="1.5" class="mk"/>
<circle cx="330.52" cy="620.52" r="1.5" class="mk"/>
<rect x="289.47" y="579.05" width="44.53" height="17.8" rx="1.2" class="lg"/>
<line x1="291.07" y1="583.85" x2="303.07" y2="583.85" class="ln"/>
<circle cx="297.07" cy="583.85" r="1.5" class="mk"/>
<line x1="291.07" y1="591.65" x2="303.07" y2="591.65" class="fit"/>
<text transform="translate(307.27,586.55) scale(1,1.03)" class="lt">Boujgah</text>
<text transform="translate(307.27,594.35) scale(1,1.03)" class="lt">Linear Fit</text>
<line x1="364.2" y1="669.05" x2="507.8" y2="669.05" class="sb"/>
<line x1="507.6" y1="576.15" x2="507.6" y2="669.55" class="sp"/>
<line x1="364.7" y1="576.15" x2="364.7" y2="669.05" class="sp"/>
<line x1="371.18" y1="669.05" x2="371.18" y2="670.85" class="tk"/>
<text transform="translate(371.18,676.55) scale(1,1.03)" class="tl" text-anchor="middle">2000</text>
<line x1="398.19" y1="669.05" x2="398.19" y2="670.85" class="tk"/>
<text transform="translate(398.19,676.55) scale(1,1.03)" class="tl" text-anchor="middle">2005</text>
<line x1="425.2" y1="669.05" x2="425.2" y2="670.85" class="tk"/>
<text transform="translate(425.2,676.55) scale(1,1.03)" class="tl" text-anchor="middle">2010</text>
<line x1="452.2" y1="669.05" x2="452.2" y2="670.85" class="tk"/>
<text transform="translate(452.2,676.55) scale(1,1.03)" class="tl" text-anchor="middle">2015</text>
<line x1="479.21" y1="669.05" x2="479.21" y2="670.85" class="tk"/>
<text transform="translate(479.21,676.55) scale(1,1.03)" class="tl" text-anchor="middle">2020</text>
<line x1="506.22" y1="669.05" x2="506.22" y2="670.85" class="tk"/>
<text transform="translate(506.22,676.55) scale(1,1.03)" class="tl" text-anchor="middle">2025</text>
<line x1="362.8" y1="597.26" x2="364.7" y2="597.26" class="tk"/>
<text transform="translate(361.7,599.61) scale(1,1.03)" class="ty" text-anchor="end">0.20</text>
<line x1="362.8" y1="619.42" x2="364.7" y2="619.42" class="tk"/>
<text transform="translate(361.7,621.77) scale(1,1.03)" class="ty" text-anchor="end">0.18</text>
<line x1="362.8" y1="642.23" x2="364.7" y2="642.23" class="tk"/>
<text transform="translate(361.7,644.58) scale(1,1.03)" class="ty" text-anchor="end">0.16</text>
<line x1="362.8" y1="664.83" x2="364.7" y2="664.83" class="tk"/>
<text transform="translate(361.7,667.18) scale(1,1.03)" class="ty" text-anchor="end">0.14</text>
<text transform="translate(436,574.25) scale(1,1.03)" class="ti" text-anchor="middle">Amirkelaye</text>
<text transform="translate(346.8,622.6) scale(1,1.03) rotate(-90)" class="ya" text-anchor="middle">AOD</text>
<polyline points="371.18,627.1 376.58,664.83 381.98,642.23 387.39,650.13 392.79,664.61 398.19,648.16 403.59,652.54 408.99,631.26 414.39,615.25 419.8,618.32 425.2,634.99 430.6,608.89 436,613.06 441.4,636.97 446.8,656.05 452.2,650.57 457.61,637.41 463.01,650.57 468.41,661.76 473.81,626.88 479.21,636.97 484.61,639.6 490.02,580.37 495.42,638.94 500.82,616.35" class="ln"/>
<line x1="371.18" y1="646.4" x2="500.82" y2="626.22" class="fit"/>
<circle cx="371.18" cy="627.1" r="1.5" class="mk"/>
<circle cx="376.58" cy="664.83" r="1.5" class="mk"/>
<circle cx="381.98" cy="642.23" r="1.5" class="mk"/>
<circle cx="387.39" cy="650.13" r="1.5" class="mk"/>
<circle cx="392.79" cy="664.61" r="1.5" class="mk"/>
<circle cx="398.19" cy="648.16" r="1.5" class="mk"/>
<circle cx="403.59" cy="652.54" r="1.5" class="mk"/>
<circle cx="408.99" cy="631.26" r="1.5" class="mk"/>
<circle cx="414.39" cy="615.25" r="1.5" class="mk"/>
<circle cx="419.8" cy="618.32" r="1.5" class="mk"/>
<circle cx="425.2" cy="634.99" r="1.5" class="mk"/>
<circle cx="430.6" cy="608.89" r="1.5" class="mk"/>
<circle cx="436" cy="613.06" r="1.5" class="mk"/>
<circle cx="441.4" cy="636.97" r="1.5" class="mk"/>
<circle cx="446.8" cy="656.05" r="1.5" class="mk"/>
<circle cx="452.2" cy="650.57" r="1.5" class="mk"/>
<circle cx="457.61" cy="637.41" r="1.5" class="mk"/>
<circle cx="463.01" cy="650.57" r="1.5" class="mk"/>
<circle cx="468.41" cy="661.76" r="1.5" class="mk"/>
<circle cx="473.81" cy="626.88" r="1.5" class="mk"/>
<circle cx="479.21" cy="636.97" r="1.5" class="mk"/>
<circle cx="484.61" cy="639.6" r="1.5" class="mk"/>
<circle cx="490.02" cy="580.37" r="1.5" class="mk"/>
<circle cx="495.42" cy="638.94" r="1.5" class="mk"/>
<circle cx="500.82" cy="616.35" r="1.5" class="mk"/>
<rect x="367.7" y="579.05" width="49.27" height="17.8" rx="1.2" class="lg"/>
<line x1="369.3" y1="583.85" x2="381.3" y2="583.85" class="ln"/>
<circle cx="375.3" cy="583.85" r="1.5" class="mk"/>
<line x1="369.3" y1="591.65" x2="381.3" y2="591.65" class="fit"/>
<text transform="translate(385.5,586.55) scale(1,1.03)" class="lt">Amirkelaye</text>
<text transform="translate(385.5,594.35) scale(1,1.03)" class="lt">Linear Fit</text>
<line x1="534.5" y1="669.05" x2="678.1" y2="669.05" class="sb"/>
<line x1="677.9" y1="576.15" x2="677.9" y2="669.55" class="sp"/>
<line x1="541.48" y1="669.05" x2="541.48" y2="670.85" class="tk"/>
<text transform="translate(541.48,676.55) scale(1,1.03)" class="tl" text-anchor="middle">2000</text>
<line x1="568.49" y1="669.05" x2="568.49" y2="670.85" class="tk"/>
<text transform="translate(568.49,676.55) scale(1,1.03)" class="tl" text-anchor="middle">2005</text>
<line x1="595.5" y1="669.05" x2="595.5" y2="670.85" class="tk"/>
<text transform="translate(595.5,676.55) scale(1,1.03)" class="tl" text-anchor="middle">2010</text>
<line x1="622.5" y1="669.05" x2="622.5" y2="670.85" class="tk"/>
<text transform="translate(622.5,676.55) scale(1,1.03)" class="tl" text-anchor="middle">2015</text>
<line x1="649.51" y1="669.05" x2="649.51" y2="670.85" class="tk"/>
<text transform="translate(649.51,676.55) scale(1,1.03)" class="tl" text-anchor="middle">2020</text>
<line x1="676.52" y1="669.05" x2="676.52" y2="670.85" class="tk"/>
<text transform="translate(676.52,676.55) scale(1,1.03)" class="tl" text-anchor="middle">2025</text>
<line x1="533.1" y1="583.88" x2="535" y2="583.88" class="tk"/>
<text transform="translate(532,586.23) scale(1,1.03)" class="ty" text-anchor="end">0.20</text>
<line x1="533.1" y1="611.08" x2="535" y2="611.08" class="tk"/>
<text transform="translate(532,613.43) scale(1,1.03)" class="ty" text-anchor="end">0.18</text>
<line x1="533.1" y1="638.28" x2="535" y2="638.28" class="tk"/>
<text transform="translate(532,640.63) scale(1,1.03)" class="ty" text-anchor="end">0.16</text>
<line x1="533.1" y1="665.49" x2="535" y2="665.49" class="tk"/>
<text transform="translate(532,667.84) scale(1,1.03)" class="ty" text-anchor="end">0.14</text>
<text transform="translate(606.3,574.25) scale(1,1.03)" class="ti" text-anchor="middle">Freydoon Kenar</text>
<text transform="translate(517.1,622.6) scale(1,1.03) rotate(-90)" class="ya" text-anchor="middle">AOD</text>
<polyline points="541.48,580.37 546.88,636.09 552.28,631.92 557.69,606.7 563.09,664.83 568.49,639.6 573.89,629.51 579.29,640.92 584.69,612.18 590.1,580.81 595.5,601.87 600.9,626 606.3,627.1 611.7,631.7 617.1,604.72 622.5,639.16 627.91,657.81 633.31,640.26 638.71,651.67 644.11,611.74 649.51,632.8 654.91,605.38 660.32,623.37 665.72,620.3 671.12,622.49" class="ln"/>
<line x1="541.48" y1="622.49" x2="671.12" y2="627.54" class="fit"/>
<circle cx="541.48" cy="580.37" r="1.5" class="mk"/>
<circle cx="546.88" cy="636.09" r="1.5" class="mk"/>
<circle cx="552.28" cy="631.92" r="1.5" class="mk"/>
<circle cx="557.69" cy="606.7" r="1.5" class="mk"/>
<circle cx="563.09" cy="664.83" r="1.5" class="mk"/>
<circle cx="568.49" cy="639.6" r="1.5" class="mk"/>
<circle cx="573.89" cy="629.51" r="1.5" class="mk"/>
<circle cx="579.29" cy="640.92" r="1.5" class="mk"/>
<circle cx="584.69" cy="612.18" r="1.5" class="mk"/>
<circle cx="590.1" cy="580.81" r="1.5" class="mk"/>
<circle cx="595.5" cy="601.87" r="1.5" class="mk"/>
<circle cx="600.9" cy="626" r="1.5" class="mk"/>
<circle cx="606.3" cy="627.1" r="1.5" class="mk"/>
<circle cx="611.7" cy="631.7" r="1.5" class="mk"/>
<circle cx="617.1" cy="604.72" r="1.5" class="mk"/>
<circle cx="622.5" cy="639.16" r="1.5" class="mk"/>
<circle cx="627.91" cy="657.81" r="1.5" class="mk"/>
<circle cx="633.31" cy="640.26" r="1.5" class="mk"/>
<circle cx="638.71" cy="651.67" r="1.5" class="mk"/>
<circle cx="644.11" cy="611.74" r="1.5" class="mk"/>
<circle cx="649.51" cy="632.8" r="1.5" class="mk"/>
<circle cx="654.91" cy="605.38" r="1.5" class="mk"/>
<circle cx="660.32" cy="623.37" r="1.5" class="mk"/>
<circle cx="665.72" cy="620.3" r="1.5" class="mk"/>
<circle cx="671.12" cy="622.49" r="1.5" class="mk"/>
<rect x="611.76" y="579.05" width="62.84" height="17.8" rx="1.2" class="lg"/>
<line x1="613.36" y1="583.85" x2="625.36" y2="583.85" class="ln"/>
<circle cx="619.36" cy="583.85" r="1.5" class="mk"/>
<line x1="613.36" y1="591.65" x2="625.36" y2="591.65" class="fit"/>
<text transform="translate(629.56,586.55) scale(1,1.03)" class="lt">Freydoon Kenar</text>
<text transform="translate(629.56,594.35) scale(1,1.03)" class="lt">Linear Fit</text>
<line x1="23.6" y1="782.6" x2="167.2" y2="782.6" class="sb"/>
<line x1="167" y1="689.7" x2="167" y2="783.1" class="sp"/>
<line x1="30.58" y1="782.6" x2="30.58" y2="784.4" class="tk"/>
<text transform="translate(30.58,790.1) scale(1,1.03)" class="tl" text-anchor="middle">2000</text>
<line x1="57.59" y1="782.6" x2="57.59" y2="784.4" class="tk"/>
<text transform="translate(57.59,790.1) scale(1,1.03)" class="tl" text-anchor="middle">2005</text>
<line x1="84.6" y1="782.6" x2="84.6" y2="784.4" class="tk"/>
<text transform="translate(84.6,790.1) scale(1,1.03)" class="tl" text-anchor="middle">2010</text>
<line x1="111.6" y1="782.6" x2="111.6" y2="784.4" class="tk"/>
<text transform="translate(111.6,790.1) scale(1,1.03)" class="tl" text-anchor="middle">2015</text>
<line x1="138.61" y1="782.6" x2="138.61" y2="784.4" class="tk"/>
<text transform="translate(138.61,790.1) scale(1,1.03)" class="tl" text-anchor="middle">2020</text>
<line x1="165.62" y1="782.6" x2="165.62" y2="784.4" class="tk"/>
<text transform="translate(165.62,790.1) scale(1,1.03)" class="tl" text-anchor="middle">2025</text>
<line x1="22.2" y1="707.3" x2="24.1" y2="707.3" class="tk"/>
<text transform="translate(21.1,709.65) scale(1,1.03)" class="ty" text-anchor="end">0.26</text>
<line x1="22.2" y1="725.73" x2="24.1" y2="725.73" class="tk"/>
<text transform="translate(21.1,728.08) scale(1,1.03)" class="ty" text-anchor="end">0.24</text>
<line x1="22.2" y1="744.6" x2="24.1" y2="744.6" class="tk"/>
<text transform="translate(21.1,746.95) scale(1,1.03)" class="ty" text-anchor="end">0.22</text>
<line x1="22.2" y1="763.02" x2="24.1" y2="763.02" class="tk"/>
<text transform="translate(21.1,765.37) scale(1,1.03)" class="ty" text-anchor="end">0.20</text>
<line x1="22.2" y1="781.67" x2="24.1" y2="781.67" class="tk"/>
<text transform="translate(21.1,784.02) scale(1,1.03)" class="ty" text-anchor="end">0.18</text>
<text transform="translate(95.4,687.8) scale(1,1.03)" class="ti" text-anchor="middle">Miankaleh</text>
<text transform="translate(6.2,736.15) scale(1,1.03) rotate(-90)" class="ya" text-anchor="middle">AOD</text>
<polyline points="30.58,745.69 35.98,772.67 41.38,752.71 46.79,693.92 52.19,752.71 57.59,750.96 62.99,764.78 68.39,765.65 73.79,734.5 79.2,725.51 84.6,731.43 90,718.49 95.4,750.96 100.8,755.78 106.2,749.86 111.6,754.69 117.01,778.38 122.41,773.77 127.81,765.65 133.21,762.58 138.61,763.24 144.01,734.94 149.42,718.27 154.82,755.78 160.22,745.03" class="ln"/>
<line x1="30.58" y1="745.47" x2="160.22" y2="752.71" class="fit"/>
<circle cx="30.58" cy="745.69" r="1.5" class="mk"/>
<circle cx="35.98" cy="772.67" r="1.5" class="mk"/>
<circle cx="41.38" cy="752.71" r="1.5" class="mk"/>
<circle cx="46.79" cy="693.92" r="1.5" class="mk"/>
<circle cx="52.19" cy="752.71" r="1.5" class="mk"/>
<circle cx="57.59" cy="750.96" r="1.5" class="mk"/>
<circle cx="62.99" cy="764.78" r="1.5" class="mk"/>
<circle cx="68.39" cy="765.65" r="1.5" class="mk"/>
<circle cx="73.79" cy="734.5" r="1.5" class="mk"/>
<circle cx="79.2" cy="725.51" r="1.5" class="mk"/>
<circle cx="84.6" cy="731.43" r="1.5" class="mk"/>
<circle cx="90" cy="718.49" r="1.5" class="mk"/>
<circle cx="95.4" cy="750.96" r="1.5" class="mk"/>
<circle cx="100.8" cy="755.78" r="1.5" class="mk"/>
<circle cx="106.2" cy="749.86" r="1.5" class="mk"/>
<circle cx="111.6" cy="754.69" r="1.5" class="mk"/>
<circle cx="117.01" cy="778.38" r="1.5" class="mk"/>
<circle cx="122.41" cy="773.77" r="1.5" class="mk"/>
<circle cx="127.81" cy="765.65" r="1.5" class="mk"/>
<circle cx="133.21" cy="762.58" r="1.5" class="mk"/>
<circle cx="138.61" cy="763.24" r="1.5" class="mk"/>
<circle cx="144.01" cy="734.94" r="1.5" class="mk"/>
<circle cx="149.42" cy="718.27" r="1.5" class="mk"/>
<circle cx="154.82" cy="755.78" r="1.5" class="mk"/>
<circle cx="160.22" cy="745.03" r="1.5" class="mk"/>
<rect x="116.8" y="692.6" width="46.9" height="17.8" rx="1.2" class="lg"/>
<line x1="118.4" y1="697.4" x2="130.4" y2="697.4" class="ln"/>
<circle cx="124.4" cy="697.4" r="1.5" class="mk"/>
<line x1="118.4" y1="705.2" x2="130.4" y2="705.2" class="fit"/>
<text transform="translate(134.6,700.1) scale(1,1.03)" class="lt">Miankaleh</text>
<text transform="translate(134.6,707.9) scale(1,1.03)" class="lt">Linear Fit</text>
</svg></body></html>
